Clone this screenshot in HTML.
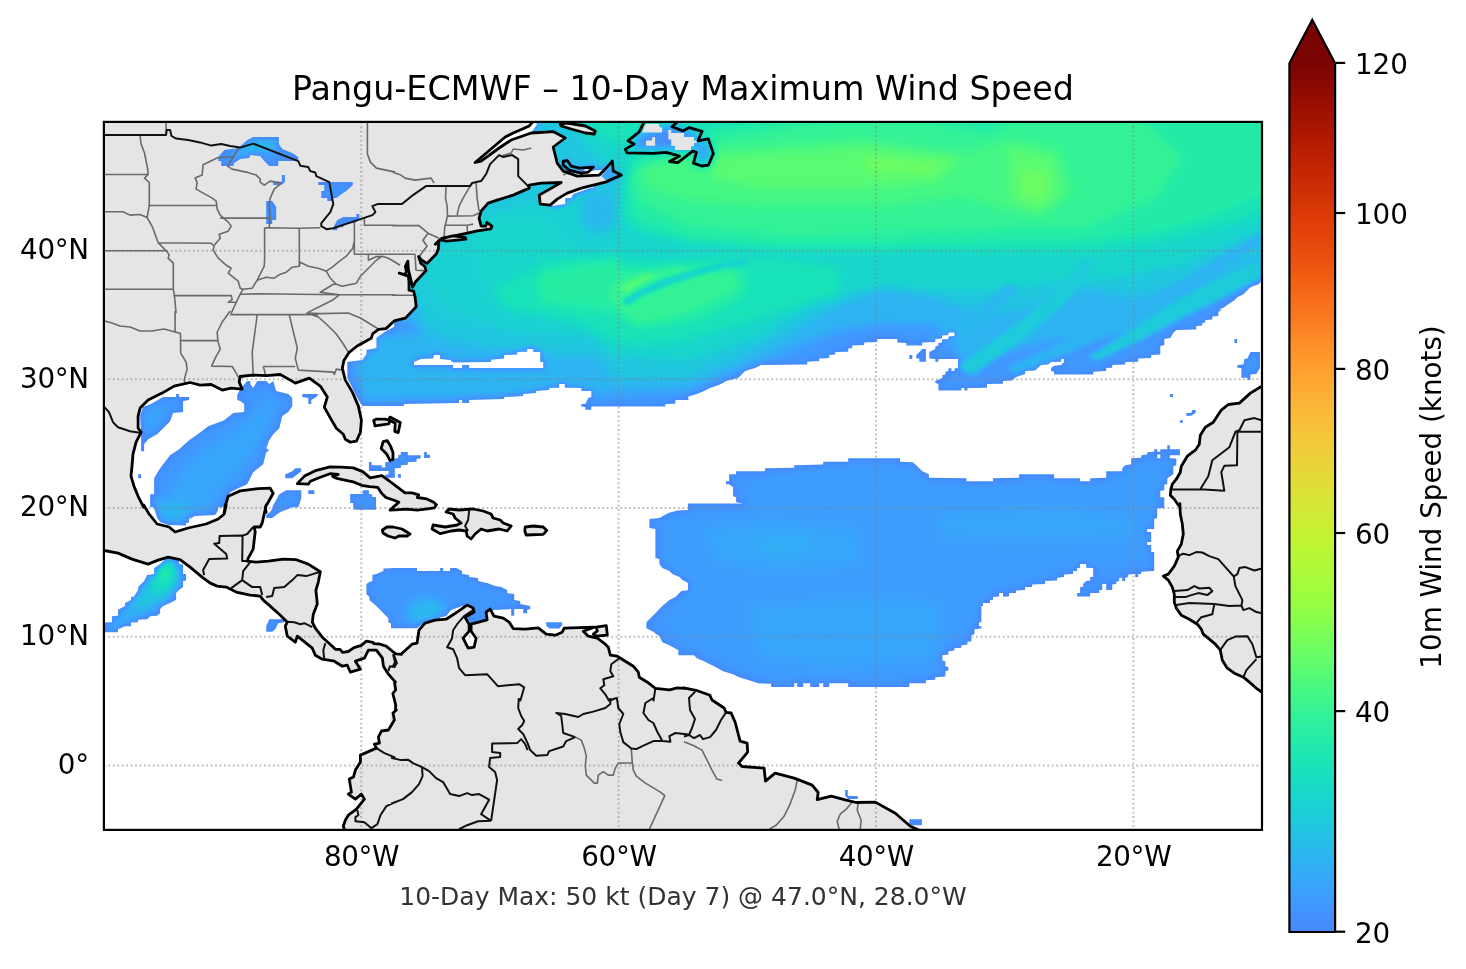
<!DOCTYPE html>
<html lang="en"><head><meta charset="utf-8"><title>Pangu-ECMWF – 10-Day Maximum Wind Speed</title>
<style>
html,body{margin:0;padding:0;background:#fff}
body{width:1466px;height:969px;overflow:hidden;font-family:"DejaVu Sans","Liberation Sans",sans-serif}
svg{display:block}
text{font-family:"DejaVu Sans","Liberation Sans",sans-serif;fill:#000}
.tk text{font-size:27.78px}
.mt text{letter-spacing:-0.35px}
</style></head><body>
<svg width="1466" height="969" viewBox="0 0 1466 969">
<defs>
<clipPath id="ax"><rect x="103.9" y="121.9" width="1158.1" height="708.0"/></clipPath>
<linearGradient id="cbg" x1="0" y1="1" x2="0" y2="0">
<stop offset="0.000" stop-color="#4687fb"/><stop offset="0.025" stop-color="#4294ff"/><stop offset="0.050" stop-color="#3aa3fc"/><stop offset="0.075" stop-color="#31aff5"/><stop offset="0.100" stop-color="#28bceb"/><stop offset="0.125" stop-color="#1fc9dd"/><stop offset="0.150" stop-color="#1ad4d0"/><stop offset="0.175" stop-color="#18ddc2"/><stop offset="0.200" stop-color="#1ce6b4"/><stop offset="0.225" stop-color="#25eca7"/><stop offset="0.250" stop-color="#32f298"/><stop offset="0.275" stop-color="#43f787"/><stop offset="0.300" stop-color="#59fb73"/><stop offset="0.325" stop-color="#6dfe62"/><stop offset="0.350" stop-color="#80ff53"/><stop offset="0.375" stop-color="#96fe44"/><stop offset="0.400" stop-color="#a4fc3c"/><stop offset="0.425" stop-color="#b1f936"/><stop offset="0.450" stop-color="#c1f334"/><stop offset="0.475" stop-color="#cdec34"/><stop offset="0.500" stop-color="#d9e436"/><stop offset="0.525" stop-color="#e5d938"/><stop offset="0.550" stop-color="#eecf3a"/><stop offset="0.575" stop-color="#f5c53a"/><stop offset="0.600" stop-color="#fbb838"/><stop offset="0.625" stop-color="#fdac34"/><stop offset="0.650" stop-color="#fe9e2f"/><stop offset="0.675" stop-color="#fe9029"/><stop offset="0.700" stop-color="#fb7e21"/><stop offset="0.725" stop-color="#f76f1a"/><stop offset="0.750" stop-color="#f26014"/><stop offset="0.775" stop-color="#eb500e"/><stop offset="0.800" stop-color="#e4450a"/><stop offset="0.825" stop-color="#dc3b07"/><stop offset="0.850" stop-color="#d02f05"/><stop offset="0.875" stop-color="#c52603"/><stop offset="0.900" stop-color="#b91e02"/><stop offset="0.925" stop-color="#a91601"/><stop offset="0.950" stop-color="#9b0f01"/><stop offset="0.975" stop-color="#8b0902"/><stop offset="1.000" stop-color="#7a0403"/>
</linearGradient>
<clipPath id="wm"><path clip-rule="evenodd" d="M240.2,159.1 249.2,158.1 250.2,155.1 260.2,156.1 264.2,161.1 269.2,166.1 278.2,166.1 278.2,161.1 298.3,161.1 298.3,157.1 292.3,153.0 282.3,149.0 278.9,144.0 278.9,137.0 253.2,137.0 247.2,140.0 238.2,148.0 224.2,150.0 218.2,157.1 218.2,161.1 221.2,161.1 221.2,166.1 233.2,166.1 234.2,163.1Z M284.9,175.1 281.9,175.1 281.9,181.7 273.2,181.7 273.2,185.1 281.3,185.1 284.9,182.1Z M327.3,198.1 327.3,201.1 332.3,201.1 332.3,198.1 336.3,198.1 340.3,195.1 346.3,191.1 352.8,185.1 352.8,182.1 318.3,182.1 318.3,185.1 324.3,185.1 324.3,191.1 321.3,191.1 321.3,198.1Z M266.2,201.1 266.2,224.1 272.2,224.1 272.2,220.1 276.2,220.1 276.2,207.1 272.2,201.1Z M359.4,214.1 356.4,214.1 356.4,217.1 343.3,217.1 337.3,220.1 333.3,227.2 333.3,230.2 337.3,230.2 337.3,227.2 343.3,227.2 343.3,224.1 354.4,223.1 359.4,220.1Z M316.3,397.1 318.3,394.1 302.3,394.1 302.3,397.1 308.3,398.1 308.3,404.1 311.3,404.1 311.3,400.1Z M173.1,413.1 183.1,412.1 183.1,401.1 189.1,400.1 189.1,397.1 179.1,397.1 179.1,394.1 176.1,394.1 176.1,397.1 163.1,397.1 151.1,404.1 143.1,407.1 140.1,415.1 141.1,432.2 141.1,451.2 144.1,451.2 144.1,444.2 148.1,439.2 157.1,434.2 163.1,428.2 170.1,421.2Z M208.2,426.2 199.1,433.2 189.1,440.2 179.1,449.2 170.1,455.2 160.1,468.2 154.1,478.2 154.1,494.3 150.1,494.3 150.1,507.3 153.8,507.3 157.1,518.0 160.1,522.0 168.1,525.0 186.1,525.6 186.1,523.0 189.1,522.4 189.1,519.0 195.1,516.0 215.2,515.0 218.2,510.0 218.2,507.3 224.2,507.3 230.2,492.3 238.2,488.2 247.2,484.2 250.2,478.2 253.2,472.2 263.2,464.2 266.2,452.2 269.2,450.2 266.2,448.2 269.2,440.2 273.2,434.2 279.3,428.2 282.3,416.1 288.3,412.1 292.3,406.1 292.3,398.1 288.3,394.1 276.2,391.1 273.2,381.1 269.2,384.1 266.2,381.1 257.2,381.1 253.2,388.1 250.2,384.1 250.2,381.1 247.2,381.1 240.2,389.1 237.2,395.1 237.2,400.1 240.2,401.1 244.2,404.1 244.2,412.1 233.2,413.1 224.2,420.2Z M292.3,471.2 285.3,474.2 285.3,478.2 292.3,478.2 301.3,471.2 301.3,468.2 295.3,468.2Z M141.1,474.2 138.1,474.2 138.1,478.2 141.1,478.2Z M314.3,490.2 308.3,490.2 308.3,493.9 314.3,493.9Z M272.2,507.3 272.9,507.3 270.2,512.0 266.2,515.0 266.2,518.0 272.2,518.0 276.2,515.0 280.3,512.0 288.3,509.0 291.3,507.3 298.3,507.3 301.3,498.3 301.3,490.2 286.3,490.2 279.3,494.3Z M138.1,622.2 138.1,619.8 147.1,619.2 150.1,616.2 157.1,615.8 160.1,613.2 160.1,609.1 163.1,606.1 170.1,603.1 176.1,599.7 176.1,593.1 179.1,590.1 183.1,587.1 183.1,581.1 186.1,580.5 186.1,574.1 183.1,574.1 183.1,564.5 179.1,564.1 179.1,561.1 173.1,558.1 173.1,555.1 166.1,555.1 166.1,558.1 160.1,564.1 154.1,568.1 154.1,574.1 147.1,575.1 144.1,581.1 138.1,587.1 138.1,590.1 134.0,596.5 131.0,597.1 131.0,600.1 125.0,603.1 125.0,606.1 118.0,609.7 118.0,615.8 112.0,616.2 112.0,622.2 104.0,622.6 104.0,632.2 118.0,632.2 118.0,629.2 125.0,626.2 131.0,626.2 131.0,622.6Z M266.2,626.2 266.2,631.8 272.2,631.8 275.2,629.2 278.2,623.2 284.3,622.2 284.3,619.2 269.2,619.2Z M394.4,204.1 392.0,204.1 392.0,207.1 394.4,207.1Z M394.2,326.7 384.4,332.0 376.4,338.0 376.4,348.1 366.4,350.1 366.4,354.1 362.4,360.1 347.3,362.1 347.3,378.1 354.4,392.1 358.4,400.1 362.4,406.1 394.2,406.1 395.4,406.1 404.0,406.1 404.0,404.1 459.1,403.1 459.1,400.1 462.1,400.1 462.1,403.1 469.1,403.1 469.1,400.1 504.2,399.1 504.2,397.1 523.2,396.1 523.2,394.1 536.2,393.1 536.2,391.1 549.2,390.1 549.2,388.1 559.2,387.7 559.2,384.1 564.8,384.1 564.8,387.7 581.3,388.1 581.3,391.1 591.3,391.1 591.3,397.1 588.3,398.1 585.3,404.1 581.3,404.1 581.3,406.5 585.3,407.1 585.3,409.7 591.3,409.7 591.3,406.5 665.4,406.5 665.4,404.1 675.4,403.7 675.4,400.1 683.6,400.1 688.4,400.1 688.4,396.5 697.0,394.1 704.0,391.1 710.0,388.1 720.0,384.5 726.1,381.1 738.1,378.1 745.1,371.1 755.1,368.1 761.1,365.1 807.2,364.5 807.2,361.7 819.2,361.1 819.2,358.5 829.2,358.1 829.2,355.1 835.2,354.5 835.2,352.1 848.2,351.7 848.2,348.5 852.2,348.1 852.2,345.6 864.2,345.0 864.2,342.4 877.3,342.0 877.3,339.0 897.3,339.0 897.3,342.4 906.3,343.0 906.3,345.6 922.3,345.6 922.3,342.4 935.3,342.0 935.3,339.0 942.0,338.4 942.0,335.6 948.4,335.0 948.4,332.6 954.4,332.6 954.4,336.0 948.4,336.4 948.4,339.0 942.0,339.6 942.0,342.4 938.4,343.0 938.4,345.6 935.3,346.4 935.3,349.1 929.3,352.1 929.3,358.5 935.3,359.1 935.3,361.7 938.4,361.7 938.4,359.1 958.0,359.1 958.0,368.1 954.4,368.5 954.4,371.1 951.4,371.1 951.4,368.1 948.4,368.5 948.4,371.1 945.4,371.7 945.4,374.5 942.4,375.1 942.4,378.1 935.3,381.1 935.3,383.1 938.4,383.7 938.4,390.5 961.4,390.5 961.4,388.1 964.4,388.1 964.4,390.5 967.4,390.5 967.4,388.1 981.4,388.1 981.4,387.7 987.0,387.7 987.0,384.1 1003.0,383.7 1003.0,381.1 1012.0,380.5 1016.1,377.1 1025.1,374.1 1025.1,371.1 1035.1,370.5 1041.1,365.1 1048.1,364.5 1051.1,362.1 1061.1,361.7 1061.1,359.1 1064.1,359.1 1064.1,362.1 1061.1,365.1 1054.1,365.7 1051.1,368.1 1051.1,371.1 1054.1,371.7 1054.1,374.5 1093.2,374.5 1093.2,371.7 1106.2,371.1 1106.2,368.1 1112.2,367.7 1112.2,365.1 1125.2,364.5 1125.2,362.1 1138.2,361.7 1138.2,358.5 1151.2,358.1 1151.2,355.1 1160.3,354.5 1160.3,346.0 1164.3,345.0 1164.3,339.0 1170.3,338.0 1173.3,333.0 1176.3,330.0 1196.3,329.6 1196.3,326.0 1202.3,325.6 1202.3,323.0 1205.3,322.4 1205.3,320.0 1212.3,319.6 1212.3,316.4 1218.3,316.0 1218.3,312.0 1222.3,309.6 1218.9,309.6 1224.3,307.3 1228.3,304.3 1234.4,300.3 1237.4,297.3 1243.4,294.2 1247.4,290.2 1250.4,287.2 1258.4,284.2 1261.4,281.2 1271.4,278.2 1271.4,115.6 985.0,115.6 985.0,115.0 395.0,115.0 395.0,309.6 394.2,309.6Z M481.1,161.1 475.1,162.5 505.2,137.0 513.2,133.0 529.2,126.0 533.2,122.0 537.2,124.0 533.2,130.0 531.2,133.0 511.2,140.0 499.1,148.0Z M588.3,172.1 583.3,172.5 585.3,167.7 593.3,167.1Z M599.3,176.1 577.3,176.5 565.2,171.7 581.3,174.5 593.3,170.5 605.3,169.7Z M551.2,206.1 550.2,205.1 557.2,199.1 567.2,193.1 581.3,188.1 593.3,185.1 593.3,188.1 590.3,188.1 573.3,194.1 571.2,198.1 565.2,198.1 565.2,204.1Z M453.1,365.1 414.0,365.1 414.0,362.1 421.0,359.1 433.1,358.5 434.1,355.1 440.1,355.1 440.1,359.1 450.1,360.1 453.1,362.5 491.1,362.1 491.1,359.7 504.2,358.5 504.2,355.1 517.2,354.5 517.2,352.1 527.2,351.7 527.2,349.1 533.2,349.1 533.2,352.1 540.2,352.1 540.2,362.1 543.2,362.1 543.2,368.1 469.1,368.1 469.1,365.1 462.1,365.1 462.1,368.1 453.1,368.1Z M424.1,458.0 430.0,458.0 430.0,454.8 426.9,454.8 426.9,452.1 424.1,452.1Z M394.8,468.2 400.9,467.9 400.9,465.2 407.8,464.8 407.8,462.1 416.6,461.7 416.6,458.7 420.7,458.4 420.7,455.3 407.8,455.3 407.8,452.1 400.9,452.1 400.9,454.6 398.2,455.3 398.2,458.0 394.1,458.7 391.4,462.1 385.3,462.1 385.3,467.5 381.8,467.5 381.8,465.2 371.6,465.2 371.6,462.1 368.9,462.1 368.9,470.9 388.7,470.9 388.7,474.4 385.3,474.4 385.3,477.8 394.8,477.8Z M400.9,477.8 400.9,474.1 397.9,474.1 397.9,477.8Z M355.9,509.6 355.9,509.8 376.0,509.8 376.0,497.1 372.3,497.1 372.3,494.4 368.9,494.1 368.9,490.3 362.7,490.3 362.7,494.1 350.2,494.1 350.2,503.0 353.2,503.0 353.2,506.4 353.4,506.4 353.4,509.6Z M655.4,558.1 659.4,559.1 659.4,564.1 662.4,568.1 669.4,571.1 672.4,574.1 679.4,577.1 682.4,580.1 688.0,582.9 688.0,590.2 681.4,591.1 675.4,597.1 669.4,600.1 662.4,606.1 659.4,609.1 655.4,613.2 652.4,616.2 646.4,622.2 646.4,628.2 652.4,631.2 659.4,636.2 662.4,642.2 669.4,645.2 678.4,650.2 678.4,655.2 688.0,655.2 688.4,655.2 694.0,655.2 697.0,658.2 704.0,661.2 710.0,664.2 716.0,667.2 723.1,671.2 733.1,674.2 739.1,677.2 749.1,680.2 758.1,683.2 771.1,683.8 771.1,686.9 794.2,686.9 794.2,683.2 797.2,683.2 797.2,686.9 803.2,686.9 803.2,683.2 810.2,683.2 810.2,686.9 819.2,686.9 819.2,683.2 823.2,683.2 823.2,686.9 829.2,686.9 829.2,683.2 848.2,683.2 848.2,686.9 909.3,686.9 909.3,683.2 925.9,683.2 925.9,680.2 935.3,679.8 935.3,677.2 945.4,676.6 945.4,671.2 948.4,670.6 948.4,667.2 945.4,666.2 945.4,661.2 942.4,660.6 942.4,655.2 948.4,654.6 948.4,651.2 954.4,650.6 954.4,648.2 961.4,647.8 961.4,645.2 967.4,644.6 967.4,641.8 971.4,641.2 971.4,635.2 974.4,634.2 974.4,629.2 981.4,628.6 981.4,626.2 980.0,626.2 979.0,626.2 979.0,622.2 980.0,622.2 981.4,622.2 981.4,606.1 983.0,606.1 983.0,603.1 990.0,603.1 990.0,600.1 993.0,599.7 993.0,597.1 999.0,596.5 999.0,593.1 1003.0,593.1 1003.0,596.5 1009.0,596.5 1009.0,593.1 1016.1,593.1 1016.1,590.5 1025.1,590.1 1025.1,587.1 1032.1,587.1 1032.1,584.5 1045.1,584.1 1045.1,581.1 1057.1,580.5 1057.1,577.7 1064.1,577.1 1064.1,574.5 1073.1,574.1 1073.1,571.1 1077.1,571.1 1077.1,568.1 1080.1,567.7 1080.1,564.1 1086.2,564.1 1086.2,567.7 1093.2,568.1 1093.2,577.1 1090.2,577.1 1090.2,580.5 1086.2,581.1 1083.1,584.1 1083.1,587.1 1080.1,587.1 1080.1,593.1 1077.1,593.1 1077.1,596.5 1090.2,596.5 1090.2,593.1 1099.2,593.1 1099.2,590.1 1102.2,590.1 1102.2,584.1 1106.2,584.1 1106.2,590.1 1112.2,590.1 1112.2,584.5 1116.2,584.1 1116.2,581.7 1119.2,581.1 1119.2,577.7 1122.2,577.7 1122.2,581.1 1125.2,581.1 1125.2,577.7 1128.2,577.1 1128.2,574.5 1135.2,574.1 1135.2,577.1 1138.2,577.1 1138.2,574.1 1141.2,574.1 1141.2,571.7 1154.2,571.1 1154.2,552.1 1151.2,552.1 1151.2,545.1 1147.2,545.1 1147.2,542.1 1151.2,542.1 1151.2,532.0 1147.2,532.0 1147.2,529.0 1154.2,529.0 1154.2,519.0 1157.2,518.0 1157.2,508.3 1164.3,508.3 1164.3,506.0 1164.3,503.6 1164.3,497.3 1160.3,497.3 1160.3,490.7 1164.3,490.2 1164.3,484.6 1167.3,484.2 1167.3,478.2 1173.3,474.2 1173.3,466.2 1176.3,465.2 1176.3,458.6 1169.9,458.2 1169.9,455.2 1179.9,455.2 1179.9,449.2 1169.9,449.2 1169.9,445.2 1167.3,445.2 1167.3,449.2 1160.3,449.2 1160.3,451.8 1157.2,451.8 1157.2,449.2 1154.2,449.2 1154.2,451.8 1147.2,452.2 1147.2,454.6 1141.2,455.2 1141.2,457.8 1131.2,458.2 1131.2,464.2 1125.2,465.2 1122.2,468.2 1122.2,471.2 1106.2,471.2 1106.2,477.8 1090.2,478.2 1090.2,481.2 1080.1,481.2 1080.1,478.2 1054.1,478.2 1054.1,474.2 1019.1,474.2 1019.1,477.8 993.0,478.2 993.0,481.2 981.4,481.2 976.6,481.2 966.4,481.2 966.4,478.2 928.9,477.8 928.9,474.2 922.3,471.2 919.3,468.2 916.3,465.2 912.7,462.2 899.9,461.8 899.9,458.2 848.2,458.2 848.2,461.8 823.2,461.8 823.2,464.6 794.2,465.2 794.2,467.8 765.1,468.2 765.1,471.2 736.1,471.2 736.1,474.2 729.1,474.2 729.1,481.2 726.1,481.2 726.1,484.2 729.1,484.2 733.1,487.2 733.1,496.3 736.1,497.3 736.1,502.3 742.1,503.3 742.1,503.6 688.0,503.6 688.0,510.0 677.4,510.4 668.4,513.0 659.4,518.0 649.4,519.0 649.4,528.0 655.4,529.0Z M1160.3,458.2 1157.2,458.2 1157.2,454.6 1160.3,454.6Z M369.4,582.1 366.4,584.1 366.4,594.1 369.4,597.1 369.4,600.1 376.4,606.1 383.4,613.2 388.4,618.2 388.4,622.2 391.0,623.6 391.0,628.2 417.0,628.2 426.0,621.2 440.1,620.2 440.1,617.2 446.1,616.2 451.1,610.1 462.1,606.1 473.1,611.1 467.1,618.2 471.1,624.2 487.1,620.2 493.1,610.1 511.2,609.1 511.2,615.8 514.2,615.8 514.2,609.1 523.2,609.1 523.2,613.2 527.2,613.2 527.2,609.7 530.2,609.1 530.2,606.1 520.2,604.1 520.2,601.1 514.2,600.1 514.2,594.1 507.2,593.1 507.2,590.1 501.2,587.1 495.1,586.1 487.1,583.1 478.1,581.1 478.1,578.1 469.1,577.1 469.1,575.1 462.1,574.1 462.1,571.1 456.1,568.1 450.1,568.1 450.1,571.1 443.1,571.1 443.1,568.1 440.1,568.1 440.1,571.1 417.0,571.1 417.0,568.1 395.4,568.1 391.0,568.1 391.0,568.2 383.4,568.5 383.4,571.1 376.4,574.1 372.4,575.1 372.4,581.1Z M546.2,622.2 546.2,625.2 549.2,628.6 559.2,628.6 562.2,625.2 562.2,622.2Z M1237.0,339.0 1234.4,339.0 1234.4,343.0 1237.0,343.0Z M919.3,352.1 916.3,355.1 916.3,358.5 919.3,358.5 919.3,361.7 925.9,361.7 925.9,349.1 922.3,349.1Z M912.3,355.1 909.3,355.1 909.3,359.1 912.3,359.1Z M1241.4,368.1 1241.4,377.7 1247.4,377.7 1247.4,380.1 1250.4,380.1 1250.4,374.5 1256.4,374.1 1260.0,368.1 1260.0,352.1 1250.4,352.1 1247.4,358.5 1244.4,359.1 1243.4,364.5 1237.4,365.1 1237.4,367.7Z M1172.9,394.1 1169.9,394.1 1169.9,397.1 1172.9,397.1Z M1186.3,413.1 1186.3,415.7 1191.3,415.7 1195.7,412.7 1195.7,410.1 1192.3,410.1 1191.3,413.1Z M1182.9,422.8 1182.9,420.2 1179.9,420.2 1179.9,422.8Z M845.2,790.1 845.2,796.1 848.2,799.1 857.8,799.1 857.8,796.1 847.8,796.1 847.8,790.1Z M921.9,819.2 909.3,819.2 909.3,825.2 921.9,825.2Z"/></clipPath>
<clipPath id="wm2"><path clip-rule="evenodd" d="M601.3,176.1 612.3,163.1 613.3,171.1 621.3,175.1 607.3,181.1Z"/></clipPath>
<filter id="bl" filterUnits="userSpaceOnUse" x="80" y="100" width="1210" height="760" color-interpolation-filters="sRGB"><feGaussianBlur stdDeviation="5"/></filter>
<filter id="bs" filterUnits="userSpaceOnUse" x="80" y="100" width="1210" height="760" color-interpolation-filters="sRGB"><feGaussianBlur stdDeviation="2.2"/></filter>
<filter id="tb" filterUnits="userSpaceOnUse" x="80" y="100" width="1210" height="760" color-interpolation-filters="sRGB"><feComponentTransfer><feFuncR type="table" tableValues="0.276 0.274 0.266 0.254 0.239 0.220 0.200 0.179 0.165 0.145 0.127 0.116 0.104 0.098 0.093 0.093 0.100 0.108 0.127 0.144 0.163 0.197 0.221 0.248 0.290 0.320 0.350 0.381 0.428 0.459 0.489 0.518 0.560"/><feFuncG type="table" tableValues="0.481 0.521 0.560 0.590 0.619 0.649 0.678 0.707 0.726 0.754 0.780 0.797 0.822 0.837 0.859 0.872 0.890 0.901 0.917 0.927 0.936 0.949 0.957 0.964 0.974 0.980 0.985 0.989 0.994 0.997 0.998 0.999 0.999"/><feFuncB type="table" tableValues="0.951 0.979 0.996 0.999 0.995 0.984 0.968 0.948 0.932 0.905 0.876 0.856 0.824 0.803 0.772 0.752 0.724 0.706 0.676 0.654 0.631 0.595 0.569 0.543 0.503 0.477 0.450 0.424 0.386 0.361 0.338 0.316 0.286"/></feComponentTransfer></filter>
<g id="wf" filter="url(#tb)"><rect x="80" y="100" width="1210" height="760" fill="#191919"/><g filter="url(#bl)"><rect x="60" y="80" width="1250" height="800" fill="#191919"/><path fill-rule="evenodd" fill="#202020" d="M665.8,524.6 695.9,516.0 751.7,511.7 747.4,485.9 768.9,477.4 846.3,468.8 906.4,470.9 932.2,485.9 983.8,488.1 1052.5,483.8 1104.1,485.9 1134.2,468.8 1164.3,464.5 1155.7,507.4 1142.8,559.0 1104.1,567.6 1078.3,559.0 1026.8,576.2 983.8,589.1 970.9,623.5 940.8,649.2 932.2,670.7 854.9,675.0 768.9,675.0 704.5,649.2 665.8,623.5 695.9,589.1 665.8,559.0Z"/><path fill-rule="evenodd" fill="#282828" d="M156.1,424.2 166.1,410.1 160.1,404.1 143.1,410.1 144.1,432.2Z M220.2,492.3 240.2,472.2 256.2,448.2 268.2,424.2 276.2,402.1 264.2,398.1 252.2,416.1 230.2,432.2 204.1,448.2 180.1,472.2 160.1,514.3 208.2,514.3Z M1026.8,541.8 1129.9,537.5 1134.2,520.3 1069.7,507.4 940.8,511.7 940.8,537.5Z M863.5,563.3 854.9,528.9 768.9,520.3 704.5,528.9 717.4,563.3 790.4,571.9Z M936.5,657.8 940.8,602.0 854.9,597.7 747.4,606.3 760.3,657.8 833.4,666.4Z"/><path fill-rule="evenodd" fill="#303030" d="M768.9,559.0 820.5,550.4 803.3,533.2 747.4,537.5Z M128.0,624.2 144.1,616.2 160.1,606.1 174.1,596.1 182.1,582.1 180.1,564.1 170.1,557.1 160.1,560.1 152.1,570.1 140.1,586.1 126.0,602.1 112.0,618.2 106.0,628.2 116.0,630.2Z M433.1,618.2 445.1,612.1 441.1,600.1 425.0,596.1 409.0,602.1 405.0,618.2 421.0,622.2Z"/><path fill-rule="evenodd" fill="#383838" d="M688.4,390.0 737.8,370.2 787.3,350.4 836.7,330.7 886.2,323.2 935.6,325.7 950.5,340.5 960.4,360.3 1009.8,350.4 1059.3,340.5 1133.4,335.6 1182.9,308.4 1232.3,288.6 1271.9,271.3 1271.9,108.1 391.6,108.1 391.6,315.8 416.4,325.7 449.6,332.3 352.1,335.6 362.0,399.9 589.5,394.9Z M168.1,523.0 182.1,522.0 188.1,514.0 190.1,500.0 155.1,500.0 158.1,516.0Z"/><path fill-rule="evenodd" fill="#404040" d="M232.2,156.1 240.2,157.1 248.2,154.1 260.2,153.0 274.2,151.0 277.2,145.0 276.2,139.0 254.2,139.0 247.2,142.0 238.2,148.0Z M550.0,343.7 535.5,314.9 420.0,303.3 420.0,343.7Z M439.1,618.2 445.1,608.1 433.1,602.1 415.0,606.1 409.0,618.2 423.0,624.2Z"/><path fill-rule="evenodd" fill="#505050" d="M614.2,380.1 688.4,380.1 737.8,360.3 812.0,320.8 846.6,301.0 886.2,288.6 935.6,298.5 985.1,315.8 1034.5,305.9 1084.0,288.6 1133.4,298.5 1182.9,286.1 1232.3,266.4 1271.9,251.5 1271.9,108.1 391.6,108.1 391.6,266.4 407.4,278.2 406.5,286.1 418.8,296.7 418.8,325.7 454.4,343.5 543.5,355.4 596.5,355.4Z M154.1,604.1 168.1,596.1 178.1,584.1 178.1,568.1 170.1,559.1 162.1,561.1 154.1,572.1 144.1,588.1 130.0,606.1 140.1,610.1Z"/><path fill-rule="evenodd" fill="#585858" d="M416.4,236.7 540.0,236.7 549.9,281.2 530.1,320.8 465.8,325.7 426.3,315.8 401.5,281.2Z"/><path fill-rule="evenodd" fill="#606060" d="M448.9,309.1 506.7,332.2 564.4,338.0 619.3,332.2 619.3,205.1 593.3,196.4 535.5,199.3 477.8,216.7 437.3,251.3 433.6,260.8 426.3,261.4 429.7,270.5 425.8,280.2 439.9,297.9 441.1,301.0 442.3,300.8Z"/><path fill-rule="evenodd" fill="#686868" d="M1108.7,278.7 1182.9,263.9 1271.9,226.8 1271.9,108.1 559.8,108.1 589.5,147.7 619.1,177.3 624.1,216.9 614.2,251.5 569.7,251.5 543.5,221.9 484.1,221.9 475.7,256.5 485.6,286.1 515.3,305.9 559.8,315.8 589.5,335.6 614.2,355.4 688.4,360.3 762.5,335.6 819.6,299.5 886.2,286.1 960.4,291.1 1034.5,286.1 1040.2,283.3Z"/><path fill-rule="evenodd" fill="#707070" d="M150.1,588.1 157.1,572.1 163.1,562.1 170.1,561.1 175.1,570.1 174.1,584.1 164.1,592.1 154.1,594.1Z"/><path fill-rule="evenodd" fill="#808080" d="M604.3,137.8 632.0,147.0 624.1,192.2 619.1,216.9 638.9,231.7 688.4,241.6 787.3,246.6 886.2,246.6 985.1,251.5 1084.0,251.5 1182.9,236.7 1271.9,212.0 1271.9,108.1 638.9,108.1 574.6,108.1Z M492.2,291.8 506.7,309.1 535.5,314.9 540.0,315.5 540.0,315.5 581.3,323.8 618.4,342.4 643.2,344.4 684.4,340.3 725.7,327.9 766.9,315.5 808.2,303.2 839.2,297.0 839.2,268.1 808.2,261.9 766.9,257.8 725.7,255.7 684.4,259.8 643.2,261.9 619.3,260.3 619.3,254.2 580.8,258.3 570.9,257.8 540.0,261.9 540.0,268.1 521.1,274.4Z"/><path fill-rule="evenodd" fill="#8f8f8f" d="M158.1,578.1 161.1,566.1 167.1,562.1 171.1,566.1 171.1,576.1 166.1,584.1 160.1,584.1Z"/><path fill-rule="evenodd" fill="#969696" d="M638.9,221.9 688.4,241.6 787.3,249.1 886.2,249.1 1009.8,241.6 1084.0,241.6 1158.2,231.7 1207.6,216.9 1271.9,192.2 1271.9,108.1 836.7,108.1 713.1,127.9 638.9,157.6 624.1,187.2Z M540.0,303.2 591.6,307.3 622.5,319.7 643.2,327.9 684.4,323.8 725.7,307.3 746.3,292.8 746.3,272.2 725.7,268.1 684.4,268.1 647.3,270.1 622.5,268.1 581.3,266.0 540.0,270.1Z"/><path fill-rule="evenodd" fill="#9c9c9c" d="M535.5,280.2 578.9,262.9 619.3,260.0 619.3,309.1 578.9,309.1 544.2,297.5Z"/><path fill-rule="evenodd" fill="#a9a9a9" d="M638.9,202.1 688.4,226.8 787.3,236.7 886.2,234.2 1009.8,229.3 1084.0,229.3 1158.2,197.1 1182.9,157.6 1133.4,108.1 1034.5,108.1 985.1,132.8 876.3,108.1 836.7,118.0 713.1,137.8 629.0,172.4Z M619.3,309.1 636.6,326.4 680.0,314.9 737.7,291.8 737.7,268.6 680.0,265.8 619.3,274.4Z"/><path fill-rule="evenodd" fill="#afafaf" d="M161.1,572.1 163.1,565.1 167.1,564.1 168.5,570.1 166.1,576.1 162.5,576.1Z"/><path fill-rule="evenodd" fill="#bcbcbc" d="M638.9,167.5 713.1,147.7 861.4,137.8 960.4,152.6 1009.8,137.8 1059.3,147.7 1074.1,192.2 1044.4,216.9 1009.8,212.0 960.4,197.1 886.2,207.0 762.5,207.0 688.4,202.1 648.8,187.2Z"/><path fill-rule="evenodd" fill="#cfcfcf" d="M713.1,177.3 762.5,187.2 861.4,187.2 935.6,182.3 960.4,157.6 861.4,147.7 713.1,157.6Z M1009.8,197.1 1034.5,212.0 1059.3,197.1 1054.3,157.6 1009.8,147.7Z"/><path fill-rule="evenodd" fill="#dfdfdf" d="M866.4,172.4 925.7,174.9 950.5,162.5 861.4,155.1Z M1022.2,197.1 1044.4,202.1 1049.4,172.4 1019.7,167.5Z"/><path fill="#181818" d="M563.2,161.1 567.2,160.5 571.2,166.1 579.3,168.1 593.3,167.1 588.3,172.1 581.3,173.1 569.2,170.1 563.2,165.1Z"/><path fill="#181818" d="M599.3,177.1 612.3,161.1 614.3,171.1 623.3,175.1 607.3,182.1Z"/><path fill="#101010" d="M640.7,133.0 663.8,126.4 670.4,123.9 688.5,130.5 698.4,135.5 697.6,142.1 692.7,150.3 672.0,151.1 647.3,150.3 633.2,148.7 633.2,141.2Z"/><path fill="#282828" d="M693.5,141.2 708.3,138.8 713.3,153.6 708.3,165.2 693.5,163.5 696.4,152.4Z"/><path fill="#404040" d="M584.5,197.1 609.2,192.2 619.1,216.9 604.3,234.2 587.0,231.7 579.6,216.9Z"/></g><g filter="url(#bs)"><path fill="#a9a9a9" d="M608.1,286.7 626.7,278.4 647.3,272.2 674.1,268.1 688.5,269.1 655.5,278.4 637.0,286.7 626.7,297.0 632.8,307.3 663.8,299.0 705.1,286.7 725.7,282.5 715.4,297.0 684.4,311.4 643.2,319.7 622.5,311.4 610.1,299.0Z"/><path fill="#c9c9c9" d="M618.4,288.7 630.8,280.5 647.3,274.3 655.5,276.3 639.0,284.6 626.7,292.8Z"/><path fill="#585858" d="M622.5,301.1 639.0,290.8 663.8,279.4 694.7,270.1 725.7,261.9 746.3,258.8 746.3,264.0 725.7,267.1 696.8,275.3 667.9,284.6 643.2,294.9 626.7,305.2Z"/><path fill="#585858" d="M1088.2,357.3 1126.7,333.5 1171.2,303.9 1215.8,280.1 1260.3,259.3 1260.3,277.2 1221.7,297.9 1180.1,318.7 1141.6,339.5 1097.1,360.2Z"/><path fill="#383838" d="M1008.0,366.2 1067.4,339.5 1126.7,309.8 1171.2,286.1 1215.8,259.3 1260.3,232.6 1260.3,244.5 1218.7,271.2 1174.2,297.9 1129.7,321.7 1073.3,351.3 1014.0,375.1Z"/><path fill="#585858" d="M957.6,366.2 1008.0,330.6 1052.6,295.0 1082.2,259.3 1097.1,262.3 1067.4,300.9 1022.9,339.5 972.4,375.1Z"/><path fill="#404040" d="M927.9,339.5 963.5,318.7 1008.0,283.1 1019.9,289.0 978.4,324.6 942.8,345.4Z"/><path fill="none" stroke="#080808" stroke-width="4" stroke-linejoin="round" d="M240.2,159.1 249.2,158.1 250.2,155.1 260.2,156.1 264.2,161.1 269.2,166.1 278.2,166.1 278.2,161.1 298.3,161.1 298.3,157.1 292.3,153.0 282.3,149.0 278.9,144.0 278.9,137.0 253.2,137.0 247.2,140.0 238.2,148.0 224.2,150.0 218.2,157.1 218.2,161.1 221.2,161.1 221.2,166.1 233.2,166.1 234.2,163.1Z M284.9,175.1 281.9,175.1 281.9,181.7 273.2,181.7 273.2,185.1 281.3,185.1 284.9,182.1Z M327.3,198.1 327.3,201.1 332.3,201.1 332.3,198.1 336.3,198.1 340.3,195.1 346.3,191.1 352.8,185.1 352.8,182.1 318.3,182.1 318.3,185.1 324.3,185.1 324.3,191.1 321.3,191.1 321.3,198.1Z M266.2,201.1 266.2,224.1 272.2,224.1 272.2,220.1 276.2,220.1 276.2,207.1 272.2,201.1Z M359.4,214.1 356.4,214.1 356.4,217.1 343.3,217.1 337.3,220.1 333.3,227.2 333.3,230.2 337.3,230.2 337.3,227.2 343.3,227.2 343.3,224.1 354.4,223.1 359.4,220.1Z M316.3,397.1 318.3,394.1 302.3,394.1 302.3,397.1 308.3,398.1 308.3,404.1 311.3,404.1 311.3,400.1Z M173.1,413.1 183.1,412.1 183.1,401.1 189.1,400.1 189.1,397.1 179.1,397.1 179.1,394.1 176.1,394.1 176.1,397.1 163.1,397.1 151.1,404.1 143.1,407.1 140.1,415.1 141.1,432.2 141.1,451.2 144.1,451.2 144.1,444.2 148.1,439.2 157.1,434.2 163.1,428.2 170.1,421.2Z M208.2,426.2 199.1,433.2 189.1,440.2 179.1,449.2 170.1,455.2 160.1,468.2 154.1,478.2 154.1,494.3 150.1,494.3 150.1,507.3 153.8,507.3 157.1,518.0 160.1,522.0 168.1,525.0 186.1,525.6 186.1,523.0 189.1,522.4 189.1,519.0 195.1,516.0 215.2,515.0 218.2,510.0 218.2,507.3 224.2,507.3 230.2,492.3 238.2,488.2 247.2,484.2 250.2,478.2 253.2,472.2 263.2,464.2 266.2,452.2 269.2,450.2 266.2,448.2 269.2,440.2 273.2,434.2 279.3,428.2 282.3,416.1 288.3,412.1 292.3,406.1 292.3,398.1 288.3,394.1 276.2,391.1 273.2,381.1 269.2,384.1 266.2,381.1 257.2,381.1 253.2,388.1 250.2,384.1 250.2,381.1 247.2,381.1 240.2,389.1 237.2,395.1 237.2,400.1 240.2,401.1 244.2,404.1 244.2,412.1 233.2,413.1 224.2,420.2Z M292.3,471.2 285.3,474.2 285.3,478.2 292.3,478.2 301.3,471.2 301.3,468.2 295.3,468.2Z M141.1,474.2 138.1,474.2 138.1,478.2 141.1,478.2Z M314.3,490.2 308.3,490.2 308.3,493.9 314.3,493.9Z M272.2,507.3 272.9,507.3 270.2,512.0 266.2,515.0 266.2,518.0 272.2,518.0 276.2,515.0 280.3,512.0 288.3,509.0 291.3,507.3 298.3,507.3 301.3,498.3 301.3,490.2 286.3,490.2 279.3,494.3Z M138.1,622.2 138.1,619.8 147.1,619.2 150.1,616.2 157.1,615.8 160.1,613.2 160.1,609.1 163.1,606.1 170.1,603.1 176.1,599.7 176.1,593.1 179.1,590.1 183.1,587.1 183.1,581.1 186.1,580.5 186.1,574.1 183.1,574.1 183.1,564.5 179.1,564.1 179.1,561.1 173.1,558.1 173.1,555.1 166.1,555.1 166.1,558.1 160.1,564.1 154.1,568.1 154.1,574.1 147.1,575.1 144.1,581.1 138.1,587.1 138.1,590.1 134.0,596.5 131.0,597.1 131.0,600.1 125.0,603.1 125.0,606.1 118.0,609.7 118.0,615.8 112.0,616.2 112.0,622.2 104.0,622.6 104.0,632.2 118.0,632.2 118.0,629.2 125.0,626.2 131.0,626.2 131.0,622.6Z M266.2,626.2 266.2,631.8 272.2,631.8 275.2,629.2 278.2,623.2 284.3,622.2 284.3,619.2 269.2,619.2Z M394.4,204.1 392.0,204.1 392.0,207.1 394.4,207.1Z M394.2,326.7 384.4,332.0 376.4,338.0 376.4,348.1 366.4,350.1 366.4,354.1 362.4,360.1 347.3,362.1 347.3,378.1 354.4,392.1 358.4,400.1 362.4,406.1 394.2,406.1 395.4,406.1 404.0,406.1 404.0,404.1 459.1,403.1 459.1,400.1 462.1,400.1 462.1,403.1 469.1,403.1 469.1,400.1 504.2,399.1 504.2,397.1 523.2,396.1 523.2,394.1 536.2,393.1 536.2,391.1 549.2,390.1 549.2,388.1 559.2,387.7 559.2,384.1 564.8,384.1 564.8,387.7 581.3,388.1 581.3,391.1 591.3,391.1 591.3,397.1 588.3,398.1 585.3,404.1 581.3,404.1 581.3,406.5 585.3,407.1 585.3,409.7 591.3,409.7 591.3,406.5 665.4,406.5 665.4,404.1 675.4,403.7 675.4,400.1 683.6,400.1 688.4,400.1 688.4,396.5 697.0,394.1 704.0,391.1 710.0,388.1 720.0,384.5 726.1,381.1 738.1,378.1 745.1,371.1 755.1,368.1 761.1,365.1 807.2,364.5 807.2,361.7 819.2,361.1 819.2,358.5 829.2,358.1 829.2,355.1 835.2,354.5 835.2,352.1 848.2,351.7 848.2,348.5 852.2,348.1 852.2,345.6 864.2,345.0 864.2,342.4 877.3,342.0 877.3,339.0 897.3,339.0 897.3,342.4 906.3,343.0 906.3,345.6 922.3,345.6 922.3,342.4 935.3,342.0 935.3,339.0 942.0,338.4 942.0,335.6 948.4,335.0 948.4,332.6 954.4,332.6 954.4,336.0 948.4,336.4 948.4,339.0 942.0,339.6 942.0,342.4 938.4,343.0 938.4,345.6 935.3,346.4 935.3,349.1 929.3,352.1 929.3,358.5 935.3,359.1 935.3,361.7 938.4,361.7 938.4,359.1 958.0,359.1 958.0,368.1 954.4,368.5 954.4,371.1 951.4,371.1 951.4,368.1 948.4,368.5 948.4,371.1 945.4,371.7 945.4,374.5 942.4,375.1 942.4,378.1 935.3,381.1 935.3,383.1 938.4,383.7 938.4,390.5 961.4,390.5 961.4,388.1 964.4,388.1 964.4,390.5 967.4,390.5 967.4,388.1 981.4,388.1 981.4,387.7 987.0,387.7 987.0,384.1 1003.0,383.7 1003.0,381.1 1012.0,380.5 1016.1,377.1 1025.1,374.1 1025.1,371.1 1035.1,370.5 1041.1,365.1 1048.1,364.5 1051.1,362.1 1061.1,361.7 1061.1,359.1 1064.1,359.1 1064.1,362.1 1061.1,365.1 1054.1,365.7 1051.1,368.1 1051.1,371.1 1054.1,371.7 1054.1,374.5 1093.2,374.5 1093.2,371.7 1106.2,371.1 1106.2,368.1 1112.2,367.7 1112.2,365.1 1125.2,364.5 1125.2,362.1 1138.2,361.7 1138.2,358.5 1151.2,358.1 1151.2,355.1 1160.3,354.5 1160.3,346.0 1164.3,345.0 1164.3,339.0 1170.3,338.0 1173.3,333.0 1176.3,330.0 1196.3,329.6 1196.3,326.0 1202.3,325.6 1202.3,323.0 1205.3,322.4 1205.3,320.0 1212.3,319.6 1212.3,316.4 1218.3,316.0 1218.3,312.0 1222.3,309.6 1218.9,309.6 1224.3,307.3 1228.3,304.3 1234.4,300.3 1237.4,297.3 1243.4,294.2 1247.4,290.2 1250.4,287.2 1258.4,284.2 1261.4,281.2 1271.4,278.2 1271.4,115.6 985.0,115.6 985.0,115.0 395.0,115.0 395.0,309.6 394.2,309.6Z M481.1,161.1 475.1,162.5 505.2,137.0 513.2,133.0 529.2,126.0 533.2,122.0 537.2,124.0 533.2,130.0 531.2,133.0 511.2,140.0 499.1,148.0Z M588.3,172.1 583.3,172.5 585.3,167.7 593.3,167.1Z M599.3,176.1 577.3,176.5 565.2,171.7 581.3,174.5 593.3,170.5 605.3,169.7Z M551.2,206.1 550.2,205.1 557.2,199.1 567.2,193.1 581.3,188.1 593.3,185.1 593.3,188.1 590.3,188.1 573.3,194.1 571.2,198.1 565.2,198.1 565.2,204.1Z M453.1,365.1 414.0,365.1 414.0,362.1 421.0,359.1 433.1,358.5 434.1,355.1 440.1,355.1 440.1,359.1 450.1,360.1 453.1,362.5 491.1,362.1 491.1,359.7 504.2,358.5 504.2,355.1 517.2,354.5 517.2,352.1 527.2,351.7 527.2,349.1 533.2,349.1 533.2,352.1 540.2,352.1 540.2,362.1 543.2,362.1 543.2,368.1 469.1,368.1 469.1,365.1 462.1,365.1 462.1,368.1 453.1,368.1Z M424.1,458.0 430.0,458.0 430.0,454.8 426.9,454.8 426.9,452.1 424.1,452.1Z M394.8,468.2 400.9,467.9 400.9,465.2 407.8,464.8 407.8,462.1 416.6,461.7 416.6,458.7 420.7,458.4 420.7,455.3 407.8,455.3 407.8,452.1 400.9,452.1 400.9,454.6 398.2,455.3 398.2,458.0 394.1,458.7 391.4,462.1 385.3,462.1 385.3,467.5 381.8,467.5 381.8,465.2 371.6,465.2 371.6,462.1 368.9,462.1 368.9,470.9 388.7,470.9 388.7,474.4 385.3,474.4 385.3,477.8 394.8,477.8Z M400.9,477.8 400.9,474.1 397.9,474.1 397.9,477.8Z M355.9,509.6 355.9,509.8 376.0,509.8 376.0,497.1 372.3,497.1 372.3,494.4 368.9,494.1 368.9,490.3 362.7,490.3 362.7,494.1 350.2,494.1 350.2,503.0 353.2,503.0 353.2,506.4 353.4,506.4 353.4,509.6Z M655.4,558.1 659.4,559.1 659.4,564.1 662.4,568.1 669.4,571.1 672.4,574.1 679.4,577.1 682.4,580.1 688.0,582.9 688.0,590.2 681.4,591.1 675.4,597.1 669.4,600.1 662.4,606.1 659.4,609.1 655.4,613.2 652.4,616.2 646.4,622.2 646.4,628.2 652.4,631.2 659.4,636.2 662.4,642.2 669.4,645.2 678.4,650.2 678.4,655.2 688.0,655.2 688.4,655.2 694.0,655.2 697.0,658.2 704.0,661.2 710.0,664.2 716.0,667.2 723.1,671.2 733.1,674.2 739.1,677.2 749.1,680.2 758.1,683.2 771.1,683.8 771.1,686.9 794.2,686.9 794.2,683.2 797.2,683.2 797.2,686.9 803.2,686.9 803.2,683.2 810.2,683.2 810.2,686.9 819.2,686.9 819.2,683.2 823.2,683.2 823.2,686.9 829.2,686.9 829.2,683.2 848.2,683.2 848.2,686.9 909.3,686.9 909.3,683.2 925.9,683.2 925.9,680.2 935.3,679.8 935.3,677.2 945.4,676.6 945.4,671.2 948.4,670.6 948.4,667.2 945.4,666.2 945.4,661.2 942.4,660.6 942.4,655.2 948.4,654.6 948.4,651.2 954.4,650.6 954.4,648.2 961.4,647.8 961.4,645.2 967.4,644.6 967.4,641.8 971.4,641.2 971.4,635.2 974.4,634.2 974.4,629.2 981.4,628.6 981.4,626.2 980.0,626.2 979.0,626.2 979.0,622.2 980.0,622.2 981.4,622.2 981.4,606.1 983.0,606.1 983.0,603.1 990.0,603.1 990.0,600.1 993.0,599.7 993.0,597.1 999.0,596.5 999.0,593.1 1003.0,593.1 1003.0,596.5 1009.0,596.5 1009.0,593.1 1016.1,593.1 1016.1,590.5 1025.1,590.1 1025.1,587.1 1032.1,587.1 1032.1,584.5 1045.1,584.1 1045.1,581.1 1057.1,580.5 1057.1,577.7 1064.1,577.1 1064.1,574.5 1073.1,574.1 1073.1,571.1 1077.1,571.1 1077.1,568.1 1080.1,567.7 1080.1,564.1 1086.2,564.1 1086.2,567.7 1093.2,568.1 1093.2,577.1 1090.2,577.1 1090.2,580.5 1086.2,581.1 1083.1,584.1 1083.1,587.1 1080.1,587.1 1080.1,593.1 1077.1,593.1 1077.1,596.5 1090.2,596.5 1090.2,593.1 1099.2,593.1 1099.2,590.1 1102.2,590.1 1102.2,584.1 1106.2,584.1 1106.2,590.1 1112.2,590.1 1112.2,584.5 1116.2,584.1 1116.2,581.7 1119.2,581.1 1119.2,577.7 1122.2,577.7 1122.2,581.1 1125.2,581.1 1125.2,577.7 1128.2,577.1 1128.2,574.5 1135.2,574.1 1135.2,577.1 1138.2,577.1 1138.2,574.1 1141.2,574.1 1141.2,571.7 1154.2,571.1 1154.2,552.1 1151.2,552.1 1151.2,545.1 1147.2,545.1 1147.2,542.1 1151.2,542.1 1151.2,532.0 1147.2,532.0 1147.2,529.0 1154.2,529.0 1154.2,519.0 1157.2,518.0 1157.2,508.3 1164.3,508.3 1164.3,506.0 1164.3,503.6 1164.3,497.3 1160.3,497.3 1160.3,490.7 1164.3,490.2 1164.3,484.6 1167.3,484.2 1167.3,478.2 1173.3,474.2 1173.3,466.2 1176.3,465.2 1176.3,458.6 1169.9,458.2 1169.9,455.2 1179.9,455.2 1179.9,449.2 1169.9,449.2 1169.9,445.2 1167.3,445.2 1167.3,449.2 1160.3,449.2 1160.3,451.8 1157.2,451.8 1157.2,449.2 1154.2,449.2 1154.2,451.8 1147.2,452.2 1147.2,454.6 1141.2,455.2 1141.2,457.8 1131.2,458.2 1131.2,464.2 1125.2,465.2 1122.2,468.2 1122.2,471.2 1106.2,471.2 1106.2,477.8 1090.2,478.2 1090.2,481.2 1080.1,481.2 1080.1,478.2 1054.1,478.2 1054.1,474.2 1019.1,474.2 1019.1,477.8 993.0,478.2 993.0,481.2 981.4,481.2 976.6,481.2 966.4,481.2 966.4,478.2 928.9,477.8 928.9,474.2 922.3,471.2 919.3,468.2 916.3,465.2 912.7,462.2 899.9,461.8 899.9,458.2 848.2,458.2 848.2,461.8 823.2,461.8 823.2,464.6 794.2,465.2 794.2,467.8 765.1,468.2 765.1,471.2 736.1,471.2 736.1,474.2 729.1,474.2 729.1,481.2 726.1,481.2 726.1,484.2 729.1,484.2 733.1,487.2 733.1,496.3 736.1,497.3 736.1,502.3 742.1,503.3 742.1,503.6 688.0,503.6 688.0,510.0 677.4,510.4 668.4,513.0 659.4,518.0 649.4,519.0 649.4,528.0 655.4,529.0Z M1160.3,458.2 1157.2,458.2 1157.2,454.6 1160.3,454.6Z M369.4,582.1 366.4,584.1 366.4,594.1 369.4,597.1 369.4,600.1 376.4,606.1 383.4,613.2 388.4,618.2 388.4,622.2 391.0,623.6 391.0,628.2 417.0,628.2 426.0,621.2 440.1,620.2 440.1,617.2 446.1,616.2 451.1,610.1 462.1,606.1 473.1,611.1 467.1,618.2 471.1,624.2 487.1,620.2 493.1,610.1 511.2,609.1 511.2,615.8 514.2,615.8 514.2,609.1 523.2,609.1 523.2,613.2 527.2,613.2 527.2,609.7 530.2,609.1 530.2,606.1 520.2,604.1 520.2,601.1 514.2,600.1 514.2,594.1 507.2,593.1 507.2,590.1 501.2,587.1 495.1,586.1 487.1,583.1 478.1,581.1 478.1,578.1 469.1,577.1 469.1,575.1 462.1,574.1 462.1,571.1 456.1,568.1 450.1,568.1 450.1,571.1 443.1,571.1 443.1,568.1 440.1,568.1 440.1,571.1 417.0,571.1 417.0,568.1 395.4,568.1 391.0,568.1 391.0,568.2 383.4,568.5 383.4,571.1 376.4,574.1 372.4,575.1 372.4,581.1Z M546.2,622.2 546.2,625.2 549.2,628.6 559.2,628.6 562.2,625.2 562.2,622.2Z M1237.0,339.0 1234.4,339.0 1234.4,343.0 1237.0,343.0Z M919.3,352.1 916.3,355.1 916.3,358.5 919.3,358.5 919.3,361.7 925.9,361.7 925.9,349.1 922.3,349.1Z M912.3,355.1 909.3,355.1 909.3,359.1 912.3,359.1Z M1241.4,368.1 1241.4,377.7 1247.4,377.7 1247.4,380.1 1250.4,380.1 1250.4,374.5 1256.4,374.1 1260.0,368.1 1260.0,352.1 1250.4,352.1 1247.4,358.5 1244.4,359.1 1243.4,364.5 1237.4,365.1 1237.4,367.7Z M1172.9,394.1 1169.9,394.1 1169.9,397.1 1172.9,397.1Z M1186.3,413.1 1186.3,415.7 1191.3,415.7 1195.7,412.7 1195.7,410.1 1192.3,410.1 1191.3,413.1Z M1182.9,422.8 1182.9,420.2 1179.9,420.2 1179.9,422.8Z M845.2,790.1 845.2,796.1 848.2,799.1 857.8,799.1 857.8,796.1 847.8,796.1 847.8,790.1Z M921.9,819.2 909.3,819.2 909.3,825.2 921.9,825.2Z"/></g></g>
</defs>
<rect width="1466" height="969" fill="#fff"/>
<g clip-path="url(#ax)">
<g id="land" fill="#e5e5e5" stroke="none"><path fill-rule="evenodd" d="M99.0,313.3 99.0,505.0 99.0,507.3 99.0,550.1 104.0,550.5 118.0,553.1 132.0,559.1 148.1,564.1 158.1,560.1 168.1,557.1 180.1,559.7 190.1,567.1 202.1,577.1 210.2,583.1 217.2,586.1 226.2,587.1 236.2,592.1 250.2,595.1 260.2,596.1 263.2,600.1 270.2,606.1 280.3,615.2 287.3,622.2 285.3,626.2 287.3,636.2 295.3,642.2 297.3,636.2 302.3,640.2 312.3,648.2 315.3,655.2 322.3,659.2 334.3,661.2 335.3,661.8 335.3,664.7 339.1,664.2 342.3,666.2 347.3,665.2 350.4,672.2 360.4,669.2 355.4,661.2 361.7,659.1 361.7,659.1 364.3,658.2 368.4,650.2 376.4,650.2 382.4,658.2 383.4,666.2 388.4,674.2 395.4,682.2 394.5,682.8 395.7,689.8 392.8,693.5 394.1,698.5 395.7,705.1 395.5,710.5 395.8,710.5 395.8,710.6 395.1,711.1 390.6,712.0 390.6,726.4 388.4,730.0 381.4,731.0 378.4,737.1 379.4,743.1 374.4,744.1 376.4,748.1 360.4,755.1 360.4,762.1 355.4,770.1 353.4,777.1 349.3,779.1 351.4,792.1 348.3,794.1 355.4,799.1 361.4,794.1 364.4,799.1 356.4,809.2 348.3,815.2 345.3,820.2 343.3,826.2 345.3,832.2 390.6,832.2 390.6,836.2 683.6,836.2 689.4,836.2 928.3,836.2 928.3,833.2 918.3,829.8 910.3,826.2 895.3,813.2 875.3,802.1 856.2,802.5 846.2,800.1 831.2,796.1 817.2,799.7 818.2,792.5 812.2,785.1 794.2,778.1 775.1,773.1 765.5,781.1 764.1,768.1 742.1,766.5 738.5,763.1 747.7,752.1 747.1,743.1 740.1,741.1 735.1,722.0 731.1,713.0 726.1,712.4 724.1,708.0 712.0,700.0 710.0,695.6 710.0,695.3 696.0,690.3 688.4,688.8 688.4,688.7 687.3,688.6 683.6,687.9 683.6,688.3 677.4,687.9 669.4,689.9 655.4,688.3 647.4,682.2 639.3,677.2 638.3,672.2 633.3,666.2 625.3,661.2 617.3,656.2 610.3,655.2 608.3,647.2 605.3,644.2 597.3,638.2 588.3,636.2 583.3,631.2 594.3,627.2 564.2,628.2 562.2,632.2 555.2,635.2 546.2,634.2 538.2,627.8 525.2,629.2 513.2,628.6 509.2,622.2 503.2,618.2 494.1,616.2 490.1,609.1 486.1,612.1 487.1,619.8 471.1,624.2 471.1,631.2 476.1,638.2 474.1,647.2 468.1,648.2 463.1,638.2 469.1,631.2 469.1,624.2 465.1,617.2 474.1,612.1 473.1,608.1 467.1,605.1 457.1,612.1 446.1,619.2 435.1,620.2 425.0,623.2 419.0,630.2 417.0,643.2 412.0,644.2 401.0,654.2 401.0,654.3 396.1,653.9 393.6,652.3 386.2,646.1 379.6,644.0 373.8,643.6 373.0,642.4 366.4,641.1 361.5,645.3 354.0,647.7 348.3,651.5 343.5,652.1 341.8,651.5 340.0,649.4 335.4,649.2 335.3,649.2 332.3,646.2 322.3,637.2 315.3,628.2 312.3,622.2 313.3,614.2 317.3,604.1 315.9,590.1 318.3,582.1 320.3,571.7 308.3,564.1 296.3,559.7 283.3,559.1 268.2,561.1 256.2,562.1 247.2,561.1 248.2,558.1 253.2,549.1 254.2,540.0 255.2,532.0 254.2,527.0 260.2,527.0 262.2,523.0 264.2,514.0 264.6,512.3 266.2,512.3 265.5,508.4 266.0,506.0 268.2,502.3 273.2,493.3 270.2,488.2 258.2,488.6 240.2,490.9 228.2,496.3 225.2,506.1 224.2,512.3 224.6,512.3 224.2,514.0 218.2,519.0 206.1,524.0 188.1,528.0 175.1,532.0 169.1,527.0 157.1,524.0 149.1,514.0 143.7,505.0 142.5,505.0 138.1,496.3 134.0,486.2 131.0,476.2 132.0,466.2 133.0,454.2 136.1,442.2 141.1,432.2 138.1,428.2 138.1,416.1 140.1,408.1 148.1,400.1 162.1,393.1 174.1,386.1 190.1,382.5 200.1,385.1 211.2,384.5 222.2,390.1 231.2,388.1 242.2,389.1 239.2,382.1 240.2,376.5 252.2,375.1 266.2,375.7 280.3,374.5 290.3,380.1 295.3,383.1 309.3,378.1 320.3,386.1 327.3,397.1 324.3,407.1 329.3,416.1 336.3,428.2 343.3,434.2 345.3,439.2 350.4,442.2 356.4,441.2 360.4,432.2 361.4,420.2 358.4,406.1 352.4,392.1 345.3,380.1 342.3,368.1 343.9,360.5 348.9,352.7 357.2,346.0 371.2,338.2 372.8,333.6 378.6,329.4 386.0,328.6 394.0,321.2 395.4,321.2 407.0,318.0 414.0,310.0 413.1,310.0 416.2,306.7 415.0,296.4 413.6,291.2 409.0,290.2 409.0,281.8 408.4,276.2 399.2,273.2 404.8,274.6 406.4,271.6 405.4,266.4 407.8,261.2 408.4,269.6 410.4,277.8 412.6,287.0 415.6,281.8 420.8,276.2 426.0,270.6 424.8,266.4 420.8,263.4 418.6,256.6 421.8,260.2 427.0,263.4 431.1,259.2 436.3,254.0 438.3,249.0 438.9,242.2 435.3,244.2 438.3,241.2 441.5,238.6 441.5,240.2 446.7,241.2 456.9,240.2 465.9,239.2 465.1,237.4 453.5,235.8 467.3,233.2 477.5,230.8 490.9,228.8 491.9,226.2 486.9,222.5 485.7,226.2 481.1,226.2 479.1,218.1 481.1,211.1 488.1,203.1 497.1,200.1 513.2,195.1 529.2,188.1 529.2,185.1 541.2,183.1 561.2,182.5 539.2,195.1 540.2,204.1 550.2,205.1 557.2,199.1 567.2,193.1 581.3,188.1 605.3,182.1 621.3,175.1 613.3,171.1 612.3,161.1 605.3,169.1 599.3,175.1 577.3,176.1 563.2,171.1 557.2,163.1 553.2,147.0 565.2,138.0 553.2,131.6 531.2,133.0 511.2,140.0 499.1,148.0 481.1,161.1 475.1,162.5 505.2,137.0 513.2,133.0 529.2,126.0 534.2,120.0 395.4,117.1 395.4,117.0 392.0,117.0 99.0,117.0 99.0,311.0Z M394.8,431.4 398.2,432.7 400.3,422.5 390.0,417.1 388.7,419.8 384.6,419.1 376.4,419.1 373.7,420.5 375.0,425.9 388.7,423.9 390.0,420.5 395.2,423.2Z M390.7,446.4 387.3,440.7 383.2,441.6 381.2,448.4 386.6,453.9 390.0,460.7 393.0,459.3 393.0,452.5Z M330.0,473.7 338.2,474.4 332.7,476.4 336.8,478.4 343.6,479.8 353.2,481.9 361.4,485.3 369.6,486.6 377.7,487.3 381.2,492.8 385.9,497.5 394.1,500.3 398.9,502.3 394.1,506.4 390.0,510.2 395.5,509.8 406.4,509.1 417.3,510.2 425.5,509.1 434.4,507.8 436.4,504.8 433.7,502.3 426.9,498.9 417.3,497.5 418.7,494.8 411.9,492.8 405.0,492.8 396.8,486.6 388.7,480.5 381.8,475.7 370.2,477.8 362.7,471.6 353.2,467.9 340.9,467.1 330.0,466.8 316.4,470.3 304.4,476.1 297.3,483.6 308.3,484.2 310.4,481.2 320.3,477.2Z M466.1,531.0 467.1,536.0 471.1,539.0 475.1,534.0 481.1,529.0 487.1,531.0 499.1,529.0 507.2,531.0 511.2,526.0 503.2,523.0 500.2,520.0 493.1,518.0 491.1,514.0 483.1,511.0 473.1,509.0 459.1,510.0 449.1,509.0 446.1,512.0 453.1,514.0 455.1,518.0 461.1,523.0 457.1,525.0 445.1,527.0 433.1,525.0 432.1,529.0 440.1,533.6 451.1,531.0 459.1,530.0Z M399.0,536.0 407.0,536.0 410.0,534.0 402.0,529.0 393.0,527.0 387.0,527.0 382.4,530.0 383.0,533.0 388.0,536.0 395.0,538.0Z M595.3,131.0 585.3,126.0 567.2,123.0 560.2,124.0 561.2,126.0 571.2,129.0 585.3,133.0 594.3,134.0Z M625.4,149.1 627.0,152.8 653.0,153.4 666.2,152.4 679.5,156.1 669.5,161.5 677.8,162.7 692.7,151.1 696.4,152.4 693.5,163.1 701.7,166.0 708.3,165.2 713.3,153.6 708.3,138.8 698.0,140.8 702.1,131.3 689.4,127.6 682.8,130.9 672.0,126.8 677.0,122.3 677.0,119.0 644.0,119.0 644.0,122.3 639.0,132.2 627.9,140.8 634.1,144.1Z M588.3,172.1 593.3,167.1 579.3,168.1 571.2,166.1 567.2,160.5 563.2,161.1 563.2,165.1 569.2,170.1 581.3,173.1Z M1221.3,410.1 1213.3,422.2 1205.3,427.2 1200.3,435.2 1199.3,444.2 1195.3,450.2 1187.3,456.2 1181.3,466.2 1180.3,472.2 1176.3,479.2 1172.3,484.2 1170.9,489.2 1170.3,495.3 1174.3,499.3 1179.9,507.3 1179.9,507.3 1180.3,514.0 1182.3,524.0 1183.3,534.0 1181.3,544.1 1177.3,551.1 1178.3,557.1 1174.3,566.1 1168.3,574.1 1163.3,576.1 1168.3,580.1 1172.3,587.1 1174.3,594.1 1174.3,602.1 1176.3,608.1 1181.3,615.2 1189.3,619.2 1197.3,624.2 1201.3,629.2 1203.3,634.2 1209.3,639.2 1215.3,644.2 1220.3,650.2 1222.3,660.2 1227.3,668.2 1234.4,673.2 1243.4,677.2 1249.4,682.2 1256.4,688.3 1262.0,692.3 1275.4,698.3 1275.4,507.3 1275.4,503.6 1275.4,384.1 1265.4,384.1 1261.4,386.5 1250.4,393.1 1239.4,403.1 1228.3,404.5Z M546.8,530.4 543.2,527.0 533.2,526.0 525.2,527.0 524.8,531.0 526.2,535.0 543.2,534.4Z M606.3,625.6 596.3,627.2 597.3,631.2 593.3,634.2 596.3,636.2 607.3,635.2Z"/></g>
<g id="wind"><g clip-path="url(#wm)"><use href="#wf"/></g></g>
<g id="holes" fill="#fff"></g>
<g id="landtop" fill="#e5e5e5" stroke="none"><path fill-rule="evenodd" d="M491.9,226.2 486.9,222.5 485.7,226.2 481.1,226.2 479.1,218.1 481.1,211.1 488.1,203.1 497.1,200.1 513.2,195.1 529.2,188.1 529.2,185.1 541.2,183.1 561.2,182.5 539.2,195.1 540.2,204.1 550.2,205.1 557.2,199.1 567.2,193.1 581.3,188.1 605.3,182.1 621.3,175.1 613.3,171.1 612.3,161.1 605.3,169.1 599.3,175.1 577.3,176.1 563.2,171.1 557.2,163.1 553.2,147.0 565.2,138.0 553.2,131.6 531.2,133.0 511.2,140.0 499.1,148.0 481.1,161.1 475.1,162.5 505.2,137.0 513.2,133.0 529.2,126.0 534.2,120.0 392.0,117.0 392.0,310.0 390.6,310.0 390.6,311.0 99.0,311.0 99.0,505.0 99.0,507.3 99.0,550.1 104.0,550.5 118.0,553.1 132.0,559.1 148.1,564.1 158.1,560.1 168.1,557.1 180.1,559.7 190.1,567.1 202.1,577.1 210.2,583.1 217.2,586.1 226.2,587.1 236.2,592.1 250.2,595.1 260.2,596.1 263.2,600.1 270.2,606.1 280.3,615.2 287.3,622.2 285.3,626.2 287.3,636.2 295.3,642.2 297.3,636.2 302.3,640.2 312.3,648.2 315.3,655.2 322.3,659.2 334.3,661.2 335.3,661.8 335.3,664.7 339.1,664.2 342.3,666.2 347.3,665.2 350.4,672.2 360.4,669.2 355.4,661.2 361.7,659.1 361.7,659.1 364.3,658.2 368.4,650.2 376.4,650.2 382.4,658.2 383.4,666.2 388.4,674.2 395.4,682.2 394.5,682.8 395.7,689.8 392.8,693.5 394.1,698.5 395.7,705.1 395.5,710.5 395.8,710.5 395.8,710.6 395.1,711.1 390.6,712.0 390.6,726.4 388.4,730.0 381.4,731.0 378.4,737.1 379.4,743.1 374.4,744.1 376.4,748.1 360.4,755.1 360.4,762.1 355.4,770.1 353.4,777.1 349.3,779.1 351.4,792.1 348.3,794.1 355.4,799.1 361.4,794.1 364.4,799.1 356.4,809.2 348.3,815.2 345.3,820.2 343.3,826.2 345.3,832.2 390.6,832.2 390.6,836.2 683.6,836.2 689.4,836.2 928.3,836.2 928.3,833.2 918.3,829.8 910.3,826.2 895.3,813.2 875.3,802.1 856.2,802.5 846.2,800.1 831.2,796.1 817.2,799.7 818.2,792.5 812.2,785.1 794.2,778.1 775.1,773.1 765.5,781.1 764.1,768.1 742.1,766.5 738.5,763.1 747.7,752.1 747.1,743.1 740.1,741.1 735.1,722.0 731.1,713.0 726.1,712.4 724.1,708.0 712.0,700.0 710.0,695.6 710.0,695.3 696.0,690.3 688.4,688.8 688.4,688.7 687.3,688.6 683.6,687.9 683.6,688.3 677.4,687.9 669.4,689.9 655.4,688.3 647.4,682.2 639.3,677.2 638.3,672.2 633.3,666.2 625.3,661.2 617.3,656.2 610.3,655.2 608.3,647.2 605.3,644.2 597.3,638.2 588.3,636.2 583.3,631.2 594.3,627.2 564.2,628.2 562.2,632.2 555.2,635.2 546.2,634.2 538.2,627.8 525.2,629.2 513.2,628.6 509.2,622.2 503.2,618.2 494.1,616.2 490.1,609.1 486.1,612.1 487.1,619.8 471.1,624.2 471.1,631.2 476.1,638.2 474.1,647.2 468.1,648.2 463.1,638.2 469.1,631.2 469.1,624.2 465.1,617.2 474.1,612.1 473.1,608.1 467.1,605.1 457.1,612.1 446.1,619.2 435.1,620.2 425.0,623.2 419.0,630.2 417.0,643.2 412.0,644.2 401.0,654.2 401.0,654.3 396.1,653.9 393.6,652.3 386.2,646.1 379.6,644.0 373.8,643.6 373.0,642.4 366.4,641.1 361.5,645.3 354.0,647.7 348.3,651.5 343.5,652.1 341.8,651.5 340.0,649.4 335.4,649.2 335.3,649.2 332.3,646.2 322.3,637.2 315.3,628.2 312.3,622.2 313.3,614.2 317.3,604.1 315.9,590.1 318.3,582.1 320.3,571.7 308.3,564.1 296.3,559.7 283.3,559.1 268.2,561.1 256.2,562.1 247.2,561.1 248.2,558.1 253.2,549.1 254.2,540.0 255.2,532.0 254.2,527.0 260.2,527.0 262.2,523.0 264.2,514.0 264.6,512.3 266.2,512.3 265.5,508.4 266.0,506.0 268.2,502.3 273.2,493.3 270.2,488.2 258.2,488.6 240.2,490.9 228.2,496.3 225.2,506.1 224.2,512.3 224.6,512.3 224.2,514.0 218.2,519.0 206.1,524.0 188.1,528.0 175.1,532.0 169.1,527.0 157.1,524.0 149.1,514.0 143.7,505.0 142.5,505.0 138.1,496.3 134.0,486.2 131.0,476.2 132.0,466.2 133.0,454.2 136.1,442.2 141.1,432.2 138.1,428.2 138.1,416.1 140.1,408.1 148.1,400.1 162.1,393.1 174.1,386.1 190.1,382.5 200.1,385.1 211.2,384.5 222.2,390.1 231.2,388.1 242.2,389.1 239.2,382.1 240.2,376.5 252.2,375.1 266.2,375.7 280.3,374.5 290.3,380.1 295.3,383.1 309.3,378.1 320.3,386.1 327.3,397.1 324.3,407.1 329.3,416.1 336.3,428.2 343.3,434.2 345.3,439.2 350.4,442.2 356.4,441.2 360.4,432.2 361.4,420.2 358.4,406.1 352.4,392.1 345.3,380.1 342.3,368.1 343.9,360.5 348.9,352.7 357.2,346.0 371.2,338.2 372.8,333.6 378.6,329.4 386.0,328.6 394.0,321.2 395.4,321.2 407.0,318.0 414.0,310.0 413.1,310.0 416.2,306.7 415.0,296.4 413.6,291.2 409.0,290.2 409.0,281.8 408.4,276.2 399.2,273.2 404.8,274.6 406.4,271.6 405.4,266.4 407.8,261.2 408.4,269.6 410.4,277.8 412.6,287.0 415.6,281.8 420.8,276.2 426.0,270.6 424.8,266.4 420.8,263.4 418.6,256.6 421.8,260.2 427.0,263.4 431.1,259.2 436.3,254.0 438.3,249.0 438.9,242.2 435.3,244.2 438.3,241.2 441.5,238.6 441.5,240.2 446.7,241.2 456.9,240.2 465.9,239.2 465.1,237.4 453.5,235.8 467.3,233.2 477.5,230.8 490.9,228.8Z M394.8,431.4 398.2,432.7 400.3,422.5 390.0,417.1 388.7,419.8 384.6,419.1 376.4,419.1 373.7,420.5 375.0,425.9 388.7,423.9 390.0,420.5 395.2,423.2Z M390.7,446.4 387.3,440.7 383.2,441.6 381.2,448.4 386.6,453.9 390.0,460.7 393.0,459.3 393.0,452.5Z M330.0,473.7 338.2,474.4 332.7,476.4 336.8,478.4 343.6,479.8 353.2,481.9 361.4,485.3 369.6,486.6 377.7,487.3 381.2,492.8 385.9,497.5 394.1,500.3 398.9,502.3 394.1,506.4 390.0,510.2 395.5,509.8 406.4,509.1 417.3,510.2 425.5,509.1 434.4,507.8 436.4,504.8 433.7,502.3 426.9,498.9 417.3,497.5 418.7,494.8 411.9,492.8 405.0,492.8 396.8,486.6 388.7,480.5 381.8,475.7 370.2,477.8 362.7,471.6 353.2,467.9 340.9,467.1 330.0,466.8 316.4,470.3 304.4,476.1 297.3,483.6 308.3,484.2 310.4,481.2 320.3,477.2Z M466.1,531.0 467.1,536.0 471.1,539.0 475.1,534.0 481.1,529.0 487.1,531.0 499.1,529.0 507.2,531.0 511.2,526.0 503.2,523.0 500.2,520.0 493.1,518.0 491.1,514.0 483.1,511.0 473.1,509.0 459.1,510.0 449.1,509.0 446.1,512.0 453.1,514.0 455.1,518.0 461.1,523.0 457.1,525.0 445.1,527.0 433.1,525.0 432.1,529.0 440.1,533.6 451.1,531.0 459.1,530.0Z M399.0,536.0 407.0,536.0 410.0,534.0 402.0,529.0 393.0,527.0 387.0,527.0 382.4,530.0 383.0,533.0 388.0,536.0 395.0,538.0Z M645.6,123.9 642.3,132.6 662.1,132.6 662.1,127.6 659.6,127.2 658.8,123.9Z M595.3,131.0 585.3,126.0 567.2,123.0 560.2,124.0 561.2,126.0 571.2,129.0 585.3,133.0 594.3,134.0Z M674.9,145.8 674.9,149.9 691.0,149.9 691.0,146.2 693.9,146.2 693.9,142.9 696.8,142.9 696.8,140.4 693.9,140.4 693.9,137.1 684.0,137.1 684.0,133.0 671.2,133.0 671.2,130.1 668.3,130.1 668.3,139.6 671.2,139.6 671.2,145.8Z M652.2,140.4 646.0,140.4 646.0,145.8 655.1,145.8 655.1,137.1 652.2,137.1Z M1221.3,410.1 1213.3,422.2 1205.3,427.2 1200.3,435.2 1199.3,444.2 1195.3,450.2 1187.3,456.2 1181.3,466.2 1180.3,472.2 1176.3,479.2 1172.3,484.2 1170.9,489.2 1170.3,495.3 1174.3,499.3 1179.9,507.3 1179.9,507.3 1180.3,514.0 1182.3,524.0 1183.3,534.0 1181.3,544.1 1177.3,551.1 1178.3,557.1 1174.3,566.1 1168.3,574.1 1163.3,576.1 1168.3,580.1 1172.3,587.1 1174.3,594.1 1174.3,602.1 1176.3,608.1 1181.3,615.2 1189.3,619.2 1197.3,624.2 1201.3,629.2 1203.3,634.2 1209.3,639.2 1215.3,644.2 1220.3,650.2 1222.3,660.2 1227.3,668.2 1234.4,673.2 1243.4,677.2 1249.4,682.2 1256.4,688.3 1262.0,692.3 1275.4,698.3 1275.4,507.3 1275.4,503.6 1275.4,384.1 1265.4,384.1 1261.4,386.5 1250.4,393.1 1239.4,403.1 1228.3,404.5Z M546.8,530.4 543.2,527.0 533.2,526.0 525.2,527.0 524.8,531.0 526.2,535.0 543.2,534.4Z M606.3,625.6 596.3,627.2 597.3,631.2 593.3,634.2 596.3,636.2 607.3,635.2Z"/></g>
<g id="wind2"><g clip-path="url(#wm2)"><use href="#wf"/></g></g>
<g id="grid" stroke="#808080" stroke-width="2" stroke-dasharray="1.8 2.65" fill="none" opacity="0.5"><line x1="361.26" y1="121.9" x2="361.26" y2="829.9"/><line x1="618.61" y1="121.9" x2="618.61" y2="829.9"/><line x1="875.97" y1="121.9" x2="875.97" y2="829.9"/><line x1="1133.32" y1="121.9" x2="1133.32" y2="829.9"/><line x1="103.9" y1="250.63" x2="1262.0" y2="250.63"/><line x1="103.9" y1="379.35" x2="1262.0" y2="379.35"/><line x1="103.9" y1="508.08" x2="1262.0" y2="508.08"/><line x1="103.9" y1="636.81" x2="1262.0" y2="636.81"/><line x1="103.9" y1="765.54" x2="1262.0" y2="765.54"/></g>
<g id="states" fill="none" stroke="#6a6a6a" stroke-width="1.6" stroke-linejoin="round"><path fill-rule="evenodd" d="M166.1,120.0 166.1,135.0 M140.1,135.6 141.1,144.0 144.5,153.0 147.7,169.1 148.1,174.5 144.5,178.1 149.3,182.5 149.3,205.5 M102.0,174.5 148.1,174.5 M102.0,211.7 123.0,211.7 130.0,215.1 140.1,214.5 147.1,217.5 152.5,227.2 158.1,242.6 167.1,251.8 169.1,254.6 168.1,258.2 173.3,263.2 173.3,289.2 M149.3,205.5 148.1,212.1 147.1,217.5 M148.1,205.5 215.8,205.5 M102.0,250.8 167.1,250.8 M158.1,242.8 211.2,243.2 214.2,246.2 M102.0,289.2 173.3,289.2 174.5,296.2 176.1,313.3 M173.3,295.6 231.2,295.6 232.2,299.3 228.2,302.3 236.2,302.3 M238.8,148.0 227.6,166.1 232.2,169.1 246.2,172.1 256.2,175.1 260.2,179.1 260.2,182.1 264.2,185.1 270.2,181.1 281.3,183.1 274.2,189.1 270.2,198.1 269.2,206.1 270.2,218.1 269.2,227.6 M232.2,156.7 218.2,157.5 203.1,164.7 202.1,175.1 195.1,178.1 197.1,182.1 196.1,189.1 212.2,198.1 216.2,201.1 217.2,209.1 220.2,215.1 228.2,222.1 231.2,226.2 228.2,231.2 219.2,234.2 220.2,238.2 214.2,245.2 213.2,250.2 218.2,258.2 226.2,265.2 231.2,268.2 228.2,273.2 238.2,281.2 240.2,288.2 243.2,289.2 240.2,294.2 236.2,302.3 231.2,313.3 M220.2,218.1 269.2,218.1 M264.6,227.8 264.6,260.2 264.2,266.2 260.2,274.2 257.2,280.2 M264.6,227.8 299.3,228.2 320.3,227.8 M299.3,228.2 299.3,266.2 M243.2,289.2 252.2,288.2 257.2,280.2 266.2,277.2 274.2,278.2 280.3,274.2 286.3,272.2 292.3,267.2 299.3,266.2 300.3,262.2 308.3,266.2 318.3,268.2 326.3,271.2 332.3,267.2 338.3,262.2 346.3,256.2 352.8,248.2 354.0,242.2 M354.4,221.1 354.4,254.2 395.4,254.2 M326.3,271.2 330.3,278.2 336.3,284.2 342.3,286.2 356.4,283.2 360.4,276.2 368.4,268.2 376.4,260.2 382.4,256.2 388.4,258.2 395.4,262.2 M240.2,294.2 257.2,293.8 339.3,294.8 395.4,294.8 M339.3,294.8 320.3,292.2 333.3,284.2 336.3,284.2 M368.4,254.6 368.4,260.2 376.4,256.6 382.4,256.2 M364.4,218.1 364.4,225.2 395.4,225.2 M367.4,120.0 367.4,154.1 370.4,162.1 376.4,168.1 395.4,172.1 M308.3,312.1 320.3,306.3 332.3,300.3 339.3,294.8 M392.0,172.1 401.0,175.1 405.0,178.1 415.0,180.1 431.1,178.1 434.1,183.1 M446.1,186.1 445.5,198.1 447.1,206.1 447.5,216.1 M470.1,186.1 463.1,198.1 459.1,206.1 457.1,215.1 M476.1,182.1 477.1,198.1 479.1,211.1 M447.5,216.1 473.1,215.7 479.1,213.1 M445.5,225.2 467.1,225.2 473.1,224.1 M467.1,225.2 467.5,233.2 M447.5,216.1 444.7,227.2 444.1,237.2 M392.0,225.6 419.0,225.6 428.0,233.2 439.1,238.2 M428.0,233.2 423.0,240.2 427.0,246.2 423.0,251.2 419.0,257.2 M392.0,254.2 415.0,254.2 416.0,270.2 424.0,270.6 M392.0,260.2 400.0,265.2 M392.0,295.2 414.0,295.2 M501.2,156.1 511.2,153.0 513.2,149.0 523.2,150.0 531.2,148.0 M563.2,175.1 567.2,173.1 M102.0,320.4 112.0,323.0 120.0,326.0 130.0,327.0 140.1,331.0 152.1,331.0 164.1,329.0 175.1,332.0 175.1,311.0 M175.1,332.0 180.5,333.6 180.7,353.1 186.1,362.1 187.1,369.1 184.1,380.1 185.1,383.1 M180.7,340.6 217.8,340.6 M230.2,311.0 222.2,322.0 217.2,332.0 217.8,340.6 220.2,349.1 215.2,358.1 211.6,366.1 232.2,366.5 236.2,373.1 238.6,377.7 M230.2,314.6 318.3,314.6 M257.2,315.0 252.2,352.1 253.2,375.1 M289.3,315.0 297.3,348.1 295.3,358.1 298.3,370.1 M263.2,366.5 295.3,366.5 M263.2,366.5 265.2,373.1 264.2,375.1 M298.3,370.1 333.3,372.1 334.3,374.5 336.3,369.1 342.3,370.1 M306.3,313.0 318.3,317.0 326.3,324.0 336.3,334.0 343.3,344.0 348.3,352.1 M306.3,313.0 320.3,313.6 348.3,313.0 360.4,318.0 378.4,329.0 M575.3,737.1 581.3,740.1 584.3,748.1 586.3,756.1 585.3,766.1 586.3,775.1 594.3,783.1 597.3,783.1 598.3,775.1 603.3,771.7 608.3,775.1 613.3,775.1 615.3,768.1 618.3,763.1 632.3,762.7 M631.3,749.1 632.3,762.7 633.3,770.1 636.3,776.1 645.4,783.1 660.4,792.1 664.8,795.7 649.4,829.2 M684.0,741.7 694.0,745.7 702.0,750.1 707.0,760.1 712.0,770.1 717.0,779.1 722.1,780.5 M797.2,780.1 795.2,790.1 790.1,804.1 784.1,816.2 776.1,825.2 769.1,829.2 M852.2,802.1 846.2,809.2 840.2,814.2 837.2,821.2 839.2,829.2 M858.2,803.1 857.2,810.2 861.2,820.2 860.2,829.2"/></g>
<g id="borders" fill="none" stroke="#111" stroke-width="2.0" stroke-linejoin="round"><path fill-rule="evenodd" d="M102.0,135.0 166.1,135.0 166.7,130.0 170.1,130.0 171.5,136.0 176.1,138.6 188.1,140.0 200.1,142.4 211.2,145.6 221.2,144.0 230.2,146.0 240.2,147.6 253.2,143.6 298.3,161.1 300.3,165.7 308.3,167.1 310.3,171.1 315.3,172.5 316.3,176.1 329.3,182.1 333.3,204.1 330.3,212.1 321.3,223.1 321.3,226.2 326.3,229.2 333.3,228.2 354.4,221.1 372.4,215.1 375.4,212.1 372.4,206.1 377.4,204.1 395.4,204.1 M392.0,204.1 402.0,204.1 413.0,195.1 426.0,186.1 470.1,186.1 472.1,183.1 481.1,181.1 486.1,174.1 490.1,164.1 499.1,155.1 503.2,157.1 512.2,155.1 518.2,159.1 518.2,176.1 527.2,185.1 529.2,188.1 M102.0,404.5 109.0,412.1 113.0,422.2 118.0,427.2 130.0,431.2 139.7,432.8 M1261.4,420.2 1254.4,418.1 1244.4,420.2 1239.4,430.2 1235.4,431.8 1229.4,447.2 1212.3,460.2 1208.3,476.2 1200.3,489.2 M1171.3,489.6 1200.3,489.2 1224.3,490.7 1221.3,472.2 1224.3,465.8 1237.0,465.2 1237.4,431.8 1261.4,431.8 M204.1,575.1 203.1,570.1 209.2,559.1 227.2,558.5 226.2,554.1 214.2,543.7 219.2,543.1 219.6,536.0 242.6,535.6 M242.6,535.6 242.2,561.1 247.2,561.1 M242.6,535.6 247.2,534.0 253.2,527.0 M250.2,562.1 243.2,571.1 242.2,580.1 231.2,588.1 M242.2,580.1 252.2,587.1 260.2,587.1 262.2,595.1 M266.2,597.1 272.2,596.1 274.2,588.1 284.3,587.1 292.3,580.1 297.3,575.1 306.3,576.1 320.3,571.7 M287.3,621.8 294.3,622.2 300.3,624.2 304.3,623.2 312.3,627.2 M325.3,643.2 323.3,650.2 324.3,660.2 M469.1,511.0 468.1,520.0 465.1,526.0 468.1,531.0 M473.1,610.1 464.1,616.2 457.1,624.2 453.1,630.2 452.1,638.2 447.1,647.2 453.1,649.2 457.1,658.2 459.1,668.2 465.1,675.2 487.1,674.2 498.1,686.3 519.2,684.2 524.2,687.3 520.2,701.3 M619.3,658.2 611.3,664.2 610.3,671.2 613.3,676.2 603.3,679.2 604.3,685.3 600.3,688.3 605.3,694.3 609.3,701.3 M655.4,688.3 653.4,701.3 M393.0,654.2 395.0,662.2 393.0,666.2 M1178.3,556.1 1183.3,553.7 1189.3,555.1 1196.3,552.1 1202.3,552.5 1209.3,556.1 1218.3,559.1 1226.3,568.1 1233.8,576.5 M1233.8,576.5 1235.4,586.1 1239.4,594.1 1242.4,600.1 1241.4,605.5 M1233.8,576.5 1237.4,574.1 1239.4,568.1 1245.4,567.1 1254.4,570.5 1262.0,568.5 M1174.3,591.1 1187.3,590.1 1194.3,586.1 1199.3,588.5 1209.3,587.7 1212.3,591.1 1207.3,595.1 1198.3,593.1 1191.3,595.1 1185.3,597.1 1174.3,597.1 M1176.3,605.1 1189.3,603.1 1214.3,604.1 1229.4,606.1 1241.4,605.5 M1214.3,604.1 1212.3,614.2 1201.3,617.2 1196.3,623.2 M1241.4,605.5 1243.4,610.1 1249.4,608.1 1256.4,612.1 1262.0,613.2 M1220.3,649.8 1227.3,640.2 1235.4,636.6 1247.4,636.2 1252.4,644.2 1256.4,657.2 1262.0,656.6 M1243.4,677.2 1246.4,670.2 1256.4,659.2 M376.4,748.1 384.4,753.1 395.4,757.7 M357.4,810.2 358.4,815.2 355.4,817.2 355.4,821.2 364.4,822.2 371.4,828.2 377.4,824.2 380.4,815.2 386.4,806.1 395.4,802.1 M391.0,757.7 401.0,760.1 408.0,759.7 413.0,763.1 422.0,767.1 429.1,771.1 436.1,778.1 443.1,782.1 450.1,794.1 459.1,796.1 467.1,793.1 472.1,795.1 479.1,794.1 489.1,799.7 481.1,814.2 491.1,820.8 M422.0,767.1 422.6,776.1 419.0,784.1 412.0,792.1 403.0,799.1 391.0,803.7 M459.1,829.2 467.1,825.2 478.1,821.2 491.1,820.8 M491.1,820.8 497.1,780.1 495.1,772.1 489.1,767.1 490.1,758.1 500.2,757.1 500.2,753.1 492.1,752.1 492.1,743.5 517.2,743.1 521.2,739.1 525.2,744.1 527.6,750.1 M518.8,698.0 518.2,708.0 521.2,716.0 524.2,721.0 522.2,725.0 518.2,729.0 523.2,734.0 527.6,743.1 530.2,750.1 536.2,755.7 547.2,755.1 549.2,751.1 563.2,746.5 566.2,741.1 575.3,737.1 M575.3,737.1 563.2,733.0 562.2,724.0 561.2,716.0 556.2,713.0 565.2,714.0 578.3,717.0 583.3,714.0 593.3,711.6 605.3,708.0 610.3,704.0 610.3,698.0 M609.3,701.2 613.3,699.0 616.9,698.0 618.3,708.0 623.3,714.0 619.3,724.0 620.3,732.0 623.3,742.1 631.3,748.5 636.3,749.1 643.4,745.7 653.4,741.1 662.4,741.1 670.4,741.7 669.4,736.1 675.4,733.0 688.4,734.4 M653.4,698.0 645.4,703.0 643.4,713.0 648.4,720.0 653.4,723.0 657.4,732.0 662.4,741.1 M695.2,691.6 689.0,698.0 690.0,710.0 695.0,719.0 692.0,728.0 689.0,735.0 M726.1,712.4 721.0,720.0 716.0,730.0 710.0,737.1 703.0,739.1 700.0,735.0 694.0,738.1 689.0,735.0 684.0,736.5 M393.6,653.9 396.9,663.0 394.5,667.1 389.9,666.3 388.3,671.3"/></g>
<g id="coast" fill="none" stroke="#000" stroke-width="2.8" stroke-linejoin="round" stroke-linecap="round"><path fill-rule="evenodd" d="M534.2,120.0 529.2,126.0 513.2,133.0 505.2,137.0 475.1,162.5 481.1,161.1 499.1,148.0 511.2,140.0 531.2,133.0 553.2,131.6 565.2,138.0 553.2,147.0 557.2,163.1 563.2,171.1 577.3,176.1 599.3,175.1 605.3,169.1 612.3,161.1 613.3,171.1 621.3,175.1 605.3,182.1 581.3,188.1 567.2,193.1 557.2,199.1 550.2,205.1 540.2,204.1 539.2,195.1 561.2,182.5 541.2,183.1 529.2,185.1 529.2,188.1 513.2,195.1 497.1,200.1 488.1,203.1 481.1,211.1 479.1,218.1 481.1,226.2 485.7,226.2 486.9,222.5 491.9,226.2 490.9,228.8 477.5,230.8 467.3,233.2 452.9,236.0 441.5,238.6 438.3,241.2 435.3,244.2 438.9,242.2 438.3,249.0 436.3,254.0 431.1,259.2 427.0,263.4 421.8,260.2 418.6,256.6 420.8,263.4 424.8,266.4 426.0,270.6 420.8,276.2 415.6,281.8 412.6,287.0 410.4,277.8 408.4,269.6 407.8,261.2 405.4,266.4 406.4,271.6 404.8,274.6 399.2,273.2 408.4,276.2 409.0,281.8 409.0,290.2 413.6,291.2 415.0,296.4 416.2,306.7 410.4,312.9 405.4,318.1 395.0,320.7 M441.5,238.4 452.9,235.8 465.1,237.4 465.9,239.2 456.9,240.2 446.7,241.2 441.5,240.2Z M563.2,161.1 567.2,160.5 571.2,166.1 579.3,168.1 593.3,167.1 588.3,172.1 581.3,173.1 569.2,170.1 563.2,165.1Z M560.2,124.0 567.2,123.0 585.3,126.0 595.3,131.0 594.3,134.0 585.3,133.0 571.2,129.0 561.2,126.0Z M644.0,119.0 644.0,122.3 639.0,132.2 627.9,140.8 634.1,144.1 625.4,149.1 627.0,152.8 653.0,153.4 666.2,152.4 679.5,156.1 669.5,161.5 677.8,162.7 692.7,151.1 696.4,152.4 693.5,163.1 701.7,166.0 708.3,165.2 713.3,153.6 708.3,138.8 698.0,140.8 702.1,131.3 689.4,127.6 682.8,130.9 672.0,126.8 677.0,122.3 677.0,119.0Z M396.4,320.4 394.4,320.8 386.0,328.6 378.6,329.4 372.8,333.6 371.2,338.2 357.2,346.0 348.9,352.7 343.9,360.5 342.3,368.1 345.3,380.1 352.4,392.1 358.4,406.1 361.4,420.2 360.4,432.2 356.4,441.2 350.4,442.2 345.3,439.2 343.3,434.2 336.3,428.2 329.3,416.1 324.3,407.1 327.3,397.1 320.3,386.1 309.3,378.1 295.3,383.1 290.3,380.1 280.3,374.5 266.2,375.7 252.2,375.1 240.2,376.5 239.2,382.1 242.2,389.1 231.2,388.1 222.2,390.1 211.2,384.5 200.1,385.1 190.1,382.5 174.1,386.1 162.1,393.1 148.1,400.1 140.1,408.1 138.1,416.1 138.1,428.2 141.1,432.2 136.1,442.2 133.0,454.2 132.0,466.2 131.0,476.2 134.0,486.2 138.1,496.3 143.7,507.3 M224.2,512.3 225.2,506.1 228.2,496.3 240.2,490.9 258.2,488.6 270.2,488.2 273.2,493.3 268.2,502.3 265.2,507.3 266.2,512.3 M1265.4,384.1 1261.4,386.5 1250.4,393.1 1239.4,403.1 1228.3,404.5 1221.3,410.1 1213.3,422.2 1205.3,427.2 1200.3,435.2 1199.3,444.2 1195.3,450.2 1187.3,456.2 1181.3,466.2 1180.3,472.2 1176.3,479.2 1172.3,484.2 1170.9,489.2 1170.3,495.3 1174.3,499.3 1179.9,507.3 M143.7,505.0 149.1,514.0 157.1,524.0 169.1,527.0 175.1,532.0 188.1,528.0 206.1,524.0 218.2,519.0 224.2,514.0 226.2,505.0 M266.2,505.0 264.2,514.0 262.2,523.0 260.2,527.0 254.2,527.0 255.2,532.0 254.2,540.0 253.2,549.1 248.2,558.1 247.2,561.1 256.2,562.1 268.2,561.1 283.3,559.1 296.3,559.7 308.3,564.1 320.3,571.7 318.3,582.1 315.9,590.1 317.3,604.1 313.3,614.2 312.3,622.2 315.3,628.2 322.3,637.2 332.3,646.2 335.3,649.2 M99.0,550.1 104.0,550.5 118.0,553.1 132.0,559.1 148.1,564.1 158.1,560.1 168.1,557.1 180.1,559.7 190.1,567.1 202.1,577.1 210.2,583.1 217.2,586.1 226.2,587.1 236.2,592.1 250.2,595.1 260.2,596.1 263.2,600.1 270.2,606.1 280.3,615.2 287.3,622.2 285.3,626.2 287.3,636.2 295.3,642.2 297.3,636.2 302.3,640.2 312.3,648.2 315.3,655.2 322.3,659.2 334.3,661.2 342.3,666.2 347.3,665.2 350.4,672.2 360.4,669.2 355.4,661.2 364.4,658.2 368.4,650.2 376.4,650.2 382.4,658.2 383.4,666.2 388.4,674.2 395.4,682.2 M401.0,654.2 412.0,644.2 417.0,643.2 419.0,630.2 425.0,623.2 435.1,620.2 446.1,619.2 457.1,612.1 467.1,605.1 473.1,608.1 474.1,612.1 465.1,617.2 469.1,624.2 469.1,631.2 463.1,638.2 468.1,648.2 474.1,647.2 476.1,638.2 471.1,631.2 471.1,624.2 487.1,619.8 486.1,612.1 490.1,609.1 494.1,616.2 503.2,618.2 509.2,622.2 513.2,628.6 525.2,629.2 538.2,627.8 546.2,634.2 555.2,635.2 562.2,632.2 564.2,628.2 594.3,627.2 583.3,631.2 588.3,636.2 597.3,638.2 605.3,644.2 608.3,647.2 610.3,655.2 617.3,656.2 625.3,661.2 633.3,666.2 638.3,672.2 639.3,677.2 647.4,682.2 655.4,688.3 669.4,689.9 677.4,687.9 688.4,688.7 M596.3,627.2 606.3,625.6 607.3,635.2 596.3,636.2 593.3,634.2 597.3,631.2Z M433.1,525.0 445.1,527.0 457.1,525.0 461.1,523.0 455.1,518.0 453.1,514.0 446.1,512.0 449.1,509.0 459.1,510.0 473.1,509.0 483.1,511.0 491.1,514.0 493.1,518.0 500.2,520.0 503.2,523.0 511.2,526.0 507.2,531.0 499.1,529.0 487.1,531.0 481.1,529.0 475.1,534.0 471.1,539.0 467.1,536.0 466.1,531.0 459.1,530.0 451.1,531.0 440.1,533.6 432.1,529.0Z M525.2,527.0 533.2,526.0 543.2,527.0 546.8,530.4 543.2,534.4 526.2,535.0 524.8,531.0Z M382.4,530.0 387.0,527.0 393.0,527.0 402.0,529.0 410.0,534.0 407.0,536.0 399.0,536.0 395.0,538.0 388.0,536.0 383.0,533.0Z M683.6,687.9 696.0,690.3 710.0,695.3 M1179.9,503.6 1179.9,506.0 1180.3,514.0 1182.3,524.0 1183.3,534.0 1181.3,544.1 1177.3,551.1 1178.3,557.1 1174.3,566.1 1168.3,574.1 1163.3,576.1 1168.3,580.1 1172.3,587.1 1174.3,594.1 1174.3,602.1 1176.3,608.1 1181.3,615.2 1189.3,619.2 1197.3,624.2 1201.3,629.2 1203.3,634.2 1209.3,639.2 1215.3,644.2 1220.3,650.2 1222.3,660.2 1227.3,668.2 1234.4,673.2 1243.4,677.2 1249.4,682.2 1256.4,688.3 1262.0,692.3 1275.4,698.3 M396.4,710.0 393.0,713.0 394.4,720.0 388.4,730.0 381.4,731.0 378.4,737.1 379.4,743.1 374.4,744.1 376.4,748.1 360.4,755.1 360.4,762.1 355.4,770.1 353.4,777.1 349.3,779.1 351.4,792.1 348.3,794.1 355.4,799.1 361.4,794.1 364.4,799.1 356.4,809.2 348.3,815.2 345.3,820.2 343.3,826.2 345.3,832.2 M710.0,695.6 712.0,700.0 724.1,708.0 726.1,712.4 731.1,713.0 735.1,722.0 740.1,741.1 747.1,743.1 747.7,752.1 738.5,763.1 742.1,766.5 764.1,768.1 765.5,781.1 775.1,773.1 794.2,778.1 812.2,785.1 818.2,792.5 817.2,799.7 831.2,796.1 846.2,800.1 856.2,802.5 875.3,802.1 895.3,813.2 910.3,826.2 918.3,829.8 928.3,833.2 M297.3,483.6 304.4,476.1 316.4,470.3 330.0,466.8 340.9,467.1 353.2,467.9 362.7,471.6 370.2,477.8 381.8,475.7 388.7,480.5 396.8,486.6 405.0,492.8 411.9,492.8 418.7,494.8 417.3,497.5 426.9,498.9 433.7,502.3 436.4,504.8 434.4,507.8 425.5,509.1 417.3,510.2 406.4,509.1 395.5,509.8 390.0,510.2 394.1,506.4 398.9,502.3 394.1,500.3 385.9,497.5 381.2,492.8 377.7,487.3 369.6,486.6 361.4,485.3 353.2,481.9 343.6,479.8 336.8,478.4 332.7,476.4 338.2,474.4 330.0,473.7 320.3,477.2 310.4,481.2 308.3,484.2Z M373.7,420.5 376.4,419.1 384.6,419.1 388.7,419.8 390.0,417.1 400.3,422.5 398.2,432.7 394.8,431.4 395.2,423.2 390.0,420.5 388.7,423.9 375.0,425.9Z M381.2,448.4 383.2,441.6 387.3,440.7 390.7,446.4 393.0,452.5 393.0,459.3 390.0,460.7 386.6,453.9Z M335.3,649.2 340.0,649.4 342.5,652.3 348.3,651.5 354.0,647.7 361.5,645.3 366.4,641.1 373.0,642.4 373.8,643.6 379.6,644.0 386.2,646.1 393.6,652.3 396.1,653.9 401.5,654.3 M395.4,682.2 394.5,682.8 395.7,689.8 392.8,693.5 394.1,698.5 395.7,705.1 395.5,710.5"/></g>
</g>
<rect x="103.9" y="121.9" width="1158.1" height="708.0" fill="none" stroke="#000" stroke-width="2.2"/>
<text x="682.9" y="100.4" text-anchor="middle" font-size="33.33">Pangu-ECMWF – 10-Day Maximum Wind Speed</text>
<text x="683" y="904.6" text-anchor="middle" font-size="25" style="fill:#333">10-Day Max: 50 kt (Day 7) @ 47.0°N, 28.0°W</text>
<g class="tk mt"><text x="361.56" y="865.5" text-anchor="middle">80°W</text><text x="618.91" y="865.5" text-anchor="middle">60°W</text><text x="876.27" y="865.5" text-anchor="middle">40°W</text><text x="1133.62" y="865.5" text-anchor="middle">20°W</text><text x="88.7" y="259.03" text-anchor="end">40°N</text><text x="88.7" y="387.75" text-anchor="end">30°N</text><text x="88.7" y="516.48" text-anchor="end">20°N</text><text x="88.7" y="645.21" text-anchor="end">10°N</text><text x="88.7" y="773.94" text-anchor="end">0°</text></g>
<g id="cbar">
<rect x="1289.4" y="63.2" width="45.7" height="868.8" fill="url(#cbg)"/>
<path d="M1289.4 64.5 L1289.4 63.2 L1312.25 19.9 L1335.1 63.2 L1335.1 64.5 Z" fill="#7a0402"/>
<path d="M1289.4 932 L1289.4 63.2 L1312.25 19.9 L1335.1 63.2 L1335.1 932 Z" fill="none" stroke="#000" stroke-width="2.2" stroke-linejoin="miter"/>
<g class="tk"><line x1="1335.1" y1="62.9" x2="1345.2" y2="62.9" stroke="#000" stroke-width="2.2"/><text x="1354.9" y="73.6">120</text><line x1="1335.1" y1="213.0" x2="1345.2" y2="213.0" stroke="#000" stroke-width="2.2"/><text x="1354.9" y="223.7">100</text><line x1="1335.1" y1="368.9" x2="1345.2" y2="368.9" stroke="#000" stroke-width="2.2"/><text x="1354.9" y="379.6">80</text><line x1="1335.1" y1="533.0" x2="1345.2" y2="533.0" stroke="#000" stroke-width="2.2"/><text x="1354.9" y="543.7">60</text><line x1="1335.1" y1="711.1" x2="1345.2" y2="711.1" stroke="#000" stroke-width="2.2"/><text x="1354.9" y="721.8">40</text><line x1="1335.1" y1="931.7" x2="1345.2" y2="931.7" stroke="#000" stroke-width="2.2"/><text x="1354.9" y="943.3">20</text></g>
<text transform="translate(1441.2 497) rotate(-90)" text-anchor="middle" font-size="27.78">10m Wind Speed (knots)</text>
</g>
</svg>
</body></html>
